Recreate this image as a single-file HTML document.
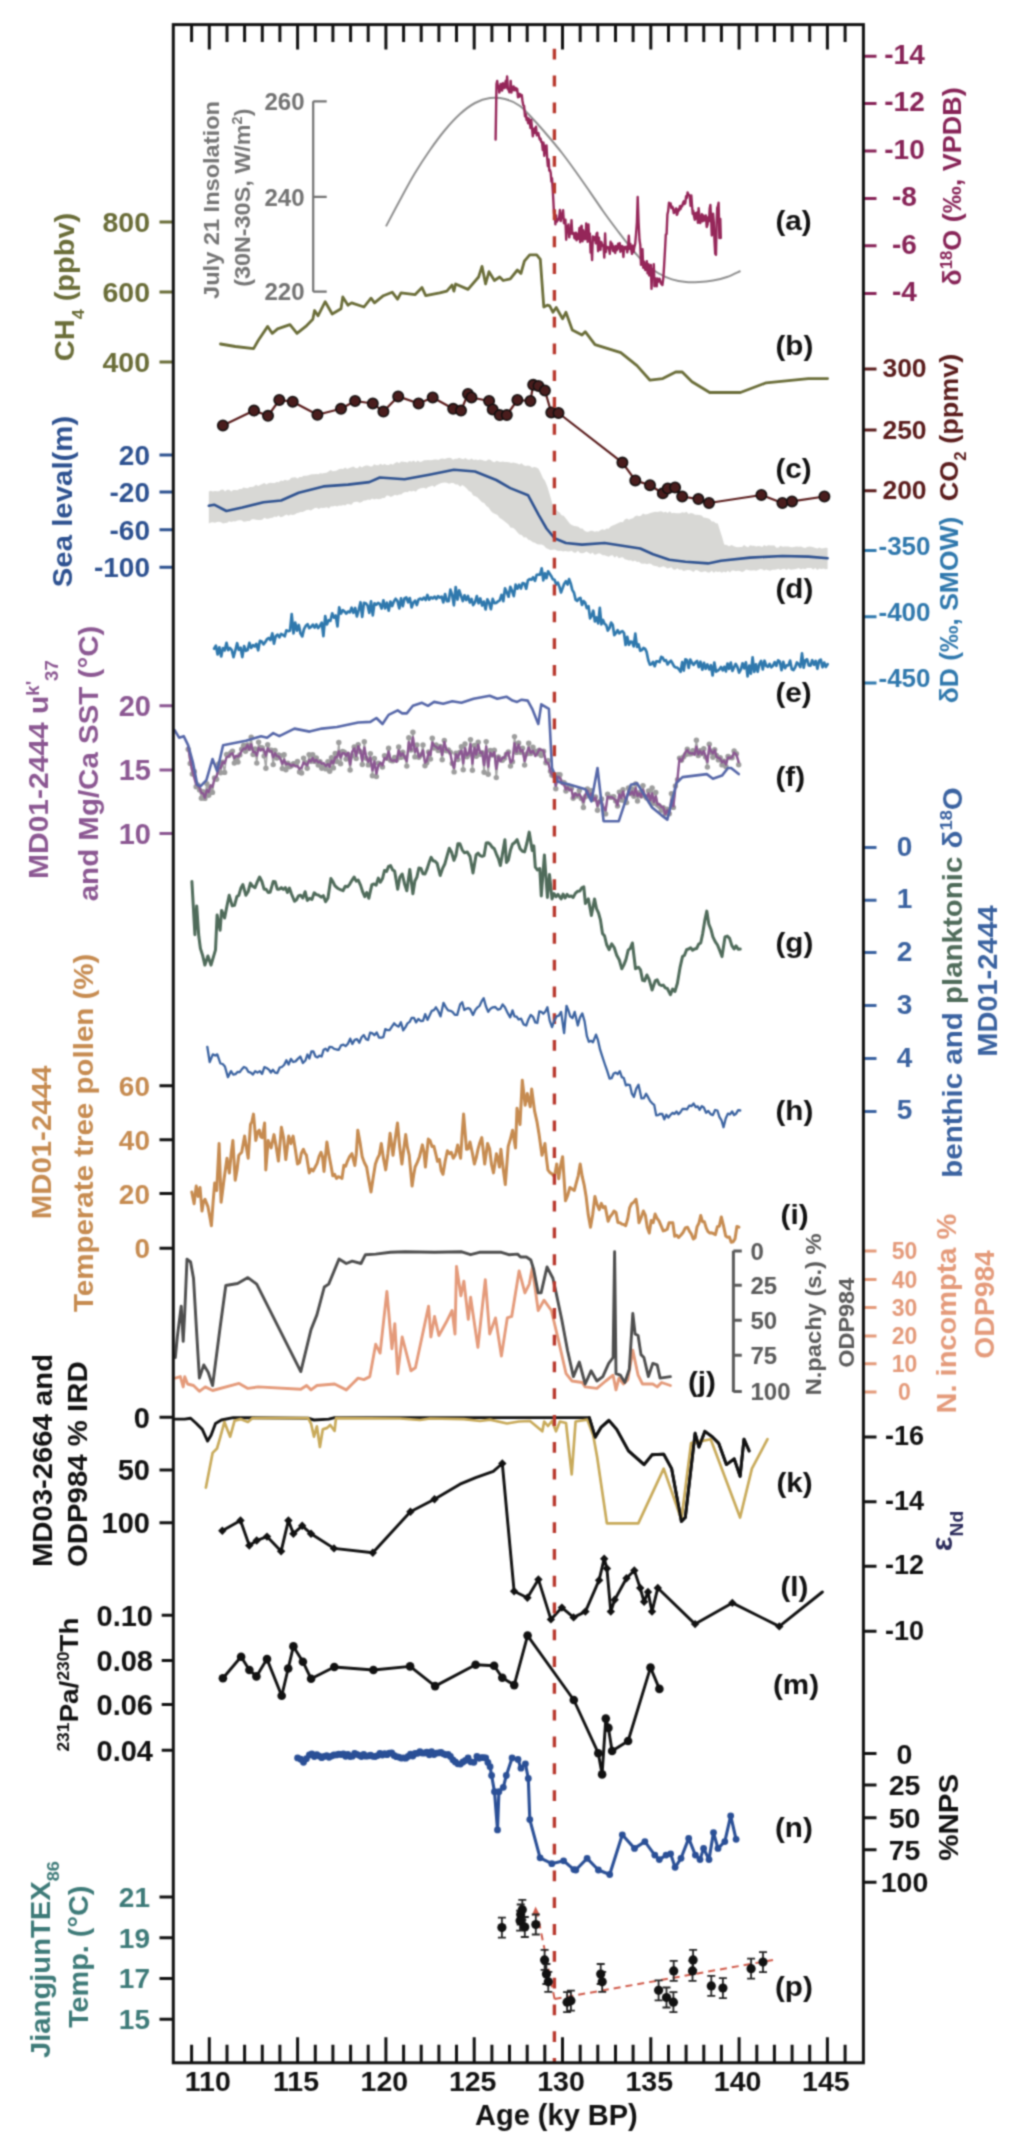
<!DOCTYPE html><html><head><meta charset="utf-8"><style>html,body{margin:0;padding:0;background:#fff;overflow:hidden}svg{display:block}text{font-family:"Liberation Sans",sans-serif;font-weight:bold}</style></head><body>
<svg width="1021" height="2143" viewBox="0 0 1021 2143">
<defs><filter id="bl" x="0" y="0" width="1021" height="2143" filterUnits="userSpaceOnUse" color-interpolation-filters="sRGB"><feConvolveMatrix order="5" kernelMatrix="0 3 8 3 0 3 48 116 48 3 8 116 283 116 8 3 48 116 48 3 0 3 8 3 0" divisor="995" edgeMode="duplicate"/></filter></defs><g filter="url(#bl)">
<rect width="1021" height="2143" fill="#fff"/>
<polygon points="208.8,491.6 210.8,490.8 212.9,491.4 214.9,490.9 217,491.3 219,491.2 221,489.8 223.1,489.5 225.1,491.4 227.1,489.8 229.2,489.7 231.2,491.4 233.3,490 235.3,489.9 237.4,490.3 239.4,489 241.5,489 243.6,487.4 245.7,488.1 247.7,488.3 249.8,487 251.9,487.1 253.9,486.6 256,484.7 258.1,485.9 260.1,485.1 262.2,484 264.3,482.9 266.4,484.5 268.4,483.2 270.5,482.8 272.6,482.9 274.7,482.9 276.7,482.1 278.8,482.2 280.9,480.5 283,481.1 285,479.8 287.1,480.6 289.2,480 291.3,477.7 293.3,477.4 295.4,477.2 297.5,478.6 299.6,476.9 301.6,476.9 303.7,475.7 305.8,475.8 307.9,475.4 309.9,474.7 312,474.2 314.1,474.3 316.2,473.9 318.2,474.3 320.3,473.3 322.4,473.5 324.4,472.9 326.5,472.8 328.6,471.6 330.6,470 332.7,471.2 334.8,471.1 336.9,470.5 338.9,469.3 341,468.7 343.1,469 345.2,467.6 347.2,468.9 349.3,468.1 351.4,467.2 353.5,466.4 355.5,468.1 357.6,468.2 359.7,465.9 361.8,467.4 363.8,466.2 365.9,465.4 368,465.5 370.1,466.5 372.1,466.5 374.2,464.3 376.3,465.2 378.4,465.3 380.5,463.7 382.5,465.1 384.6,464 386.7,465.1 388.8,465.1 390.8,463.8 392.9,464.7 395,462.9 397.1,462.1 399.1,463.2 401.2,461.6 403.3,461.8 405.4,462.1 407.4,462.4 409.5,461.1 411.6,461.7 413.7,460.4 415.7,462.2 417.8,460.6 419.9,462 422,461.6 424,460.2 426.1,460.2 428.2,460.1 430.2,460.2 432.3,459.9 434.4,459.6 436.4,459.5 438.5,460.1 440.6,458.8 442.7,458.4 444.7,458.9 446.8,458.2 448.9,457.7 450.9,457.9 453,459.7 455.1,458.7 457.2,458.8 459.2,457.7 461.3,458.7 463.4,459.2 465.4,458 467.5,459.5 469.6,459.7 471.6,458.4 473.7,459.9 475.8,459.6 477.9,460.2 479.9,459.5 482,460 484.1,460.7 486.2,461 488.2,459.5 490.3,459.7 492.4,461.4 494.5,462.3 496.5,460.8 498.6,461.5 500.7,462 502.8,461.6 504.8,461.9 506.9,462 509,462.3 511.1,463 513.1,462.5 515.2,462.9 517.3,463.4 519.4,464.6 521.5,463.3 523.7,465.2 525.8,466.1 527.9,465.6 530,465.9 532.1,467.8 534.3,467 536.4,467.4 538.5,468.7 540.7,473 542.9,478 545.1,481 547.3,486.4 550.1,495.7 553,505.9 555.1,507.6 557.3,511 559.4,512.2 561.6,515.3 563.7,515.8 565.9,518.4 568,521.3 570.2,524 572.3,525.2 574.3,525.9 576.3,526.2 578.4,526.7 580.4,528.5 582.4,528.5 584.5,530.8 586.5,531.7 588.5,531.7 590.5,530.7 592.5,530.7 594.5,531.8 596.5,531.2 598.6,531.4 600.6,530.1 602.6,529.3 604.6,530 606.6,528.5 608.6,528.7 610.7,526.5 612.7,525.6 614.7,524.8 616.8,523.8 618.8,522.8 620.8,522 622.8,522.2 624.8,519.5 626.9,518.4 628.9,519.8 630.9,518.8 633,518.3 635,516.2 637,515.5 639,516.2 641,515.7 643,513.6 645,514.5 647.1,514.3 649.1,513.5 651.1,512.7 653.1,512.3 655.2,511.8 657.3,511.9 659.3,511.6 661.4,511.3 663.5,512.5 665.6,511.8 667.7,513 669.7,511.2 671.8,513.3 673.9,512.8 676,513.3 678,513.3 680.1,513.3 682.2,512.3 684.4,512.8 686.5,511.8 688.7,514 690.8,512.9 693,513.6 695.1,514.8 697.3,514.8 699.4,514.9 701.6,515.5 703.6,517.6 705.6,517.8 707.7,518.2 709.7,519 711.7,521.4 713.8,521.5 715.8,523.3 717.8,523.6 719.9,530.2 722.1,536.9 724.2,544.6 726.7,545.1 729.1,546.2 731.5,545.1 734,546.3 736,547 738,547.3 740,547 742,547.1 744.1,545.1 746.1,546.6 748.1,547.2 750.1,545.2 752.1,545.8 754.1,545.7 756.1,546.4 758.2,546.1 760.2,546.2 762.2,547 764.2,545.1 766.2,546.3 768.2,545.3 770.3,545.5 772.3,545.6 774.4,545.5 776.4,547.7 778.5,547.5 780.5,545.7 782.6,546.8 784.6,546.4 786.7,546.4 788.7,546.6 790.8,547.3 792.8,547.2 794.9,546.8 796.9,546.4 798.9,546.8 801,546.4 803,547.5 805.1,547.9 807.1,547.1 809.2,546.5 811.2,546.8 813.3,547.3 815.3,547.9 817.4,548.4 819.4,547.5 821.5,548.6 823.5,548.2 825.6,547.8 827.6,548 827.6,568.9 825.5,569.2 823.5,568.5 821.4,569.1 819.4,568.6 817.3,569.9 815.3,568.1 813.2,569.6 811.2,568 809.1,567.9 807.1,568 805,569.3 802.9,568.6 800.9,569.6 798.8,568 796.8,568.8 794.7,569.2 792.7,569.6 790.6,569.8 788.6,568.4 786.5,569.9 784.5,568.8 782.4,568.9 780.4,570 778.4,568.7 776.3,569.5 774.3,569.7 772.3,569.7 770.2,570.7 768.2,570.2 766.2,569.4 764.2,570.6 762.1,569.3 760.1,569 758.1,570.1 756.1,570.7 754,570.3 752,570.5 750,570.5 748,570.1 746,569.5 744,571.3 742,571.9 739.9,571.1 737.9,570.7 735.9,571.2 733.9,570.5 731.9,570.6 729.9,572.4 727.9,570.8 725.8,572.4 723.8,571.6 721.8,572.7 719.8,571.5 717.8,572.1 715.8,571.3 713.8,572.8 711.7,570.8 709.7,572.4 707.7,572.5 705.6,571.3 703.6,571.4 701.6,572.2 699.6,571.5 697.5,570.2 695.5,570 693.5,572 691.5,570.8 689.4,570.1 687.4,570.1 685.4,570.5 683.4,570.9 681.4,569.6 679.3,569.7 677.3,568.3 675.3,569.8 673.3,569.5 671.3,567.2 669.2,568.1 667.2,568.4 665.2,567.1 663.2,566.3 661.2,567.1 659.2,567.4 657.1,566.2 655.1,566.1 653.1,565.6 651.1,564 649.1,563.5 647,564.2 645,563.5 643,563.8 641,563.5 639,561.7 637,562 634.9,560.4 632.9,561.5 630.9,560.2 628.9,560.5 626.9,559.8 624.8,559.3 622.8,557.2 620.8,557.6 618.8,558.2 616.8,555.8 614.7,557.7 612.7,555.2 610.7,555.4 608.7,556.8 606.7,556 604.6,555.3 602.6,555.2 600.6,553.7 598.6,553.2 596.6,554.3 594.6,554.7 592.5,552.4 590.5,554 588.5,552.7 586.4,551.4 584.3,552.8 582.2,553.3 580.1,553.1 577.9,550.8 575.8,552.8 573.7,552.5 571.6,550.8 569.5,551.6 567.4,551.4 565.3,550.9 563.2,551.4 561,550.8 558.9,551 556.8,550.5 554.7,549.6 552.6,549.8 550.4,549.9 548.2,549 546,548.1 543.8,545.6 541.6,544.4 539.4,544.5 537.2,544.3 535,542.8 532.8,542.2 530.6,540.5 528.4,539.8 526.1,537.3 523.9,537.4 521.7,535 519.5,534.6 517.3,532.2 515.1,529.4 512.9,527.8 510.7,527.8 508.5,524.5 506.3,522.7 504.1,521 501.9,519.3 499.7,518.1 497.5,515 495.3,514.1 493.1,512.9 490.9,511.1 488.6,507.6 486.4,506 484.2,503.1 482,502.2 479.8,500 477.6,497.6 475.4,496.2 473.2,495.5 471.1,492.1 468.9,491 466.7,488.4 464.5,486.4 462.3,485 460.1,486.7 457.9,484.4 455.6,484.6 453.4,483 451.2,482.9 449,483.7 446.8,482.8 444.7,482.5 442.7,482.8 440.6,483.3 438.5,484.2 436.4,485.2 434.4,487.1 432.3,485.5 430.2,486.4 428.2,487.1 426.1,488.7 424,487.7 422,487.9 419.9,488.4 417.8,489.6 415.7,491.7 413.7,490.8 411.6,491.6 409.5,491.1 407.4,492.3 405.4,492.1 403.3,492.8 401.2,494.5 399.1,494.4 397.1,495.6 395,494.7 392.9,496 390.8,496.9 388.8,495.7 386.7,495.5 384.6,498.1 382.5,498 380.5,499 378.4,499.2 376.3,498.7 374.2,499.6 372.1,498.4 370.1,499.9 368,499.6 365.9,500.4 363.8,500.6 361.8,501.9 359.7,502.7 357.6,501.8 355.5,501.8 353.5,502.3 351.4,504.7 349.3,504.3 347.2,504.1 345.2,505.6 343.1,505 341,505.8 339,505.5 337,506.6 335,505.8 332.9,506.6 330.9,506.3 328.9,508.5 326.9,507.2 324.9,507.7 322.9,508.1 320.9,507.8 318.8,508.9 316.8,507.7 314.8,508 312.8,509.3 310.8,510.6 308.8,509.8 306.8,510 304.7,511.1 302.7,512 300.7,512.1 298.7,512.8 296.7,513.2 294.7,514.4 292.7,514.9 290.6,514.5 288.6,515.7 286.6,514.6 284.6,515.6 282.6,516.7 280.6,517.3 278.6,515.6 276.5,516.9 274.5,516.6 272.5,517.7 270.5,518.1 268.4,518.7 266.4,518.8 264.3,517.7 262.2,519.8 260.1,520 258.1,519.9 256,519.8 253.9,519.3 251.9,519.2 249.8,520.9 247.7,521.1 245.7,521.4 243.6,521.8 241.5,520.3 239.4,520.2 237.4,520.6 235.3,521.6 233.3,521.2 231.2,522 229.2,521.3 227.1,522.8 225.1,523 223.1,523.4 221,522.3 219,521.7 217,522 214.9,522.7 212.9,522.2 210.8,522.6 208.8,523.4" fill="#d8d8d5" stroke="none"/>
<polyline points="208.8,505.8 214.1,504.7 226.4,511 242.3,507.5 263.5,502.2 281.1,500.5 298.7,492.7 323.4,486.4 348,484.6 369.3,482.1 379.8,477.5 404.5,479.3 429.2,474.7 453.9,469.8 475,471.5 496.2,480 510.3,488.1 528,495.2 538.5,514.6 546.5,528.5 554.5,538.2 565.9,543 582,544.6 604.6,543 640.2,548.5 653.1,554.3 669.3,559.8 685.4,561.8 708,563.4 721,560.8 750,557.6 782.4,556 808.3,556.6 827.6,558.2" fill="none" stroke="#2d5190" stroke-width="2.6" stroke-linejoin="round" stroke-linecap="round"/>
<path d="M159.5 455.1H173.3M159.5 492H173.3M159.5 529.7H173.3M159.5 567.2H173.3" stroke="#2d5190" stroke-width="3" fill="none"/>
<text x="150" y="465.1" font-size="28" fill="#2d5190" text-anchor="end">20</text>
<text x="150" y="502" font-size="28" fill="#2d5190" text-anchor="end">-20</text>
<text x="150" y="539.7" font-size="28" fill="#2d5190" text-anchor="end">-60</text>
<text x="150" y="577.2" font-size="28" fill="#2d5190" text-anchor="end">-100</text>
<path d="M313.2 101.3V291.7M313.2 101.3H326.7M313.2 196.9H326.7M313.2 291.7H326.7" stroke="#727272" stroke-width="2.2" fill="none"/>
<text x="304.5" y="109.9" font-size="24" fill="#727272" text-anchor="end">260</text>
<text x="304.5" y="205.5" font-size="24" fill="#727272" text-anchor="end">240</text>
<text x="304.5" y="300.3" font-size="24" fill="#727272" text-anchor="end">220</text>
<path d="M386 226.4C388.3 222 395.2 208.9 400 200C404.8 191.1 410 181.3 415 173C420 164.7 425 157.2 430 150C435 142.8 440 136 445 130C450 124 455 118.5 460 114C465 109.5 470 105.7 475 103C480 100.3 485 98.7 490 98C495 97.3 500 97.7 505 99C510 100.3 515 102.3 520 106C525 109.7 530.1 116 534.8 121C539.5 126 543.5 130.7 548 136C552.5 141.3 557.3 147 562 153C566.7 159 571.4 165.6 576 172C580.6 178.4 585.2 185.1 589.7 191.6C594.2 198.1 598.5 204.6 603 211C607.5 217.4 612.3 223.8 617 230C621.7 236.2 626.4 242.5 631 248C635.6 253.5 640.1 258.8 644.6 263C649.1 267.2 653.4 270.3 658 273C662.6 275.7 667.3 277.9 672 279.4C676.7 280.9 681.4 281.6 686 282C690.6 282.4 694.9 282.2 699.4 282C703.9 281.8 708.4 281.3 713 280.5C717.6 279.7 722.4 278.6 727 277C731.6 275.4 738.2 272 740.5 271" fill="none" stroke="#8f8f8f" stroke-width="2"/>
<polyline points="495.6,139.5 496.5,84 497.2,80.9 497.9,87.7 498.6,85.9 499.3,92.6 500,90 500.7,83.9 501.4,85.1 502.1,90.6 502.9,83.2 503.6,88 504.3,88.1 505,85 505.7,81 506.4,87.6 507.1,76.4 507.9,89.2 508.6,89.7 509.3,92.3 510,92 510.7,80.9 511.4,92.6 512.1,86.8 512.9,90.1 513.6,86.5 514.3,90.2 515,88 515.8,88 516.5,90.7 517.2,88.9 518,97.3 518.8,93.6 519.5,96.7 520.2,94.1 521,96 521.8,95.1 522.5,101 523.3,105.4 524.1,106 525,116.3 525.8,114.1 526.6,120 527.4,117.8 528.1,123.2 528.9,118.8 529.7,121.6 530.5,128.1 531.2,119.9 532,128 532.8,136.3 533.6,131.6 534.4,128.5 535.2,132.9 536,126.8 536.8,135.3 537.6,134 538.3,133 539.1,136.9 539.8,139.4 540.5,138.6 541.3,142.1 542,142 542.8,150.1 543.5,142.7 544.3,155.9 545,146 545.8,153 546.5,145.4 547.2,158.3 547.9,166.2 548.6,159.4 549.3,170.7 550,170 550.7,172.7 551.4,181.6 552,178.1 552.7,189 553.4,201.6 554,213.6 554.7,210.3 555.4,224.4 556.1,215.4 556.8,221.8 557.6,220.2 558.4,219.6 559.2,217.6 559.9,210 560.7,221.1 561.5,217.1 562.3,214 563.1,210.2 563.9,223.1 564.7,223.5 565.4,219.6 566.2,239.7 567,226.3 567.8,230 568.5,224.4 569.3,237.4 570,230.5 570.8,233.7 571.5,220.1 572.3,233.9 573,233 573.7,232.9 574.4,238.1 575.1,238.7 575.9,232.6 576.6,240.4 577.3,234 578,238.9 578.7,235.5 579.5,228 580.2,242.2 581,226.9 581.7,225.7 582.5,241.3 583.2,230.3 584,233.5 584.7,239.2 585.5,238.9 586.2,223.4 587,236 587.7,241.8 588.5,224.5 589.2,241.2 589.9,233.5 590.6,252.6 591.4,246.6 592.1,260.1 592.8,236.5 593.5,240.1 594.3,237 595,238 595.8,243.4 596.6,233.7 597.3,232.7 598.1,251.3 598.9,237.7 599.7,243.8 600.4,249.8 601.2,242 602,244 602.8,245.4 603.6,247.2 604.3,257.6 605.1,233.4 605.9,252 606.7,246.6 607.4,248.1 608.2,247.2 609,249 609.8,253.8 610.6,241.8 611.3,248 612.1,243.7 612.9,250.8 613.7,246.4 614.4,251.6 615.2,253 616,246 616.7,250.3 617.5,249.1 618.2,243.7 618.9,248.3 619.7,243.2 620.4,251.8 621.1,250.4 621.9,246 622.6,246.5 623.4,257 624.1,246.9 624.9,248.9 625.7,246.9 626.5,246.7 627.2,252.4 628,249 628.8,235.8 629.6,248.9 630.4,244 631.2,250.1 632,253.9 632.8,245.6 633.6,252 634.4,246.9 635.2,243.9 636,234.5 636.9,222.7 637.7,197 638.6,222.9 639.5,240 640.3,245.1 641,264.9 641.8,257.5 642.5,249.1 643.2,267.8 643.9,261.4 644.6,266.8 645.3,270 646,266 646.8,261.2 647.6,273.4 648.4,264.2 649.2,275.5 650,274 650.8,264.9 651.5,288.9 652.2,269.8 653,276.6 653.8,264.1 654.5,286.3 655.2,278.2 656,279 656.7,286.3 657.4,278.4 658.1,281.8 658.8,281 659.6,278.8 660.3,281.2 661,283.8 661.7,283.9 662.4,285 663.3,278.3 664.1,265.8 665,250 665.8,234.7 666.6,233.9 667.4,214.6 668.2,211 669,202.6 669.8,204.9 670.6,203.4 671.4,208.1 672.2,206.5 673,208 673.8,213 674.5,212.2 675.2,211.1 676,208.4 676.8,214.9 677.5,213.6 678.3,209.3 679.1,210.5 679.9,206.1 680.6,209.1 681.4,205.6 682.2,206.2 683,203 683.8,201.3 684.5,204.1 685.3,203 686.1,196.1 686.9,197.9 687.6,192.5 688.4,194.4 689.1,194.9 689.8,196.1 690.6,205.8 691.3,195.4 692,205 692.7,213.9 693.3,210.8 694,216 694.8,219.7 695.5,213.1 696.3,218.6 697.1,212.4 697.9,222.9 698.6,208.2 699.4,217.7 700.2,223.1 701,219.9 701.8,214.1 702.6,221.3 703.4,215.4 704.2,220.5 705,219 705.9,215.5 706.7,227 707.6,224.6 708.3,217.2 709,221.2 709.7,208.5 710.4,205 711.1,218.6 711.8,235.5 712.5,225.5 713.1,213.6 713.8,222.7 714.5,241 715.2,253.7 716,254.7 716.6,223.8 717.2,208 717.9,206.3 718.6,202.6 719.4,238 720.3,219 720.8,238" fill="none" stroke="#952659" stroke-width="2.4" stroke-linejoin="round" stroke-linecap="round"/>
<path d="M863.4 56.3H876.5M863.4 103.5H876.5M863.4 151H876.5M863.4 198.4H876.5M863.4 245.8H876.5M863.4 293.4H876.5" stroke="#872357" stroke-width="3" fill="none"/>
<text x="904.5" y="64.1" font-size="28" fill="#872357" text-anchor="middle">-14</text>
<text x="904.5" y="111.3" font-size="28" fill="#872357" text-anchor="middle">-12</text>
<text x="904.5" y="158.8" font-size="28" fill="#872357" text-anchor="middle">-10</text>
<text x="904.5" y="206.2" font-size="28" fill="#872357" text-anchor="middle">-8</text>
<text x="904.5" y="253.6" font-size="28" fill="#872357" text-anchor="middle">-6</text>
<text x="904.5" y="301.2" font-size="28" fill="#872357" text-anchor="middle">-4</text>
<polyline points="220.5,344 235.3,346.5 253.6,348.6 258.2,340.5 267.7,326.4 272.3,333.4 277.6,328.9 290,324.6 297,333.4 305.8,326.4 312.8,319.3 314.6,310.5 318,315.8 325.2,301.7 332.2,314 341,308.8 342.8,297 348,305.2 351.6,302.8 364,307 371,298.2 374.5,302.8 383.4,295.7 392.2,292.2 397.5,299.2 401,292.9 415,294.7 422,287.6 425.7,295.7 439.8,292.9 446.8,291.1 452,285.1 453.9,291.1 455.6,284 468,289.4 478.6,277 482,266.4 485.6,284 489,271.7 494.4,280.5 499.7,277 503.2,280.5 510.3,278.8 517.4,270 520.9,273.5 524.4,261.2 529.7,254.8 536.7,254.8 540.3,259.4 543.8,307 547.3,305.2 549.7,305.9 553,312.3 556.2,307.5 562.6,318.8 565.9,312.3 572.3,330 582,335 585.2,331.7 595,344.6 620.8,352.7 637,365.6 650,380.2 662.8,378.6 675.7,372 682.2,372 692,381.8 709.7,392.5 740.4,392.5 766.2,382.8 808.3,378.6 827.6,378.6" fill="none" stroke="#6a6d38" stroke-width="2.8" stroke-linejoin="round" stroke-linecap="round"/>
<path d="M159.5 222H173.3M159.5 292H173.3M159.5 362H173.3" stroke="#6a6d38" stroke-width="3" fill="none"/>
<text x="150" y="232.2" font-size="28.5" fill="#6a6d38" text-anchor="end">800</text>
<text x="150" y="302.2" font-size="28.5" fill="#6a6d38" text-anchor="end">600</text>
<text x="150" y="372.2" font-size="28.5" fill="#6a6d38" text-anchor="end">400</text>
<polyline points="222.9,425.4 254,410.6 268,415.8 279.3,400 292.7,401.7 317.4,414.8 341,408.8 355.1,401 372.8,403.5 383.4,411.6 398.2,396.4 418.6,403.5 432.7,397.5 453.2,408.8 461,410.6 468,394 471.5,397.5 489.1,401 492.7,409.5 499.7,415.1 506.8,415.1 517.4,400 530.4,401 533.2,384.8 538.5,385.9 544.9,390.5 551.3,412.5 558.5,413 622.4,462.6 635.3,480.4 650,485.2 662.8,493.3 667.7,488.5 675.1,487.5 682.2,496.5 698.4,499.1 709,503 761.4,495 782.4,503 792,501.4 824.4,496.5" fill="none" stroke="#5a1c1c" stroke-width="2.2" stroke-linejoin="round" stroke-linecap="round"/>
<circle cx="222.9" cy="425.4" r="5.2" fill="#4a1d1d" stroke="#151010" stroke-width="1.6"/>
<circle cx="254" cy="410.6" r="5.2" fill="#4a1d1d" stroke="#151010" stroke-width="1.6"/>
<circle cx="268" cy="415.8" r="5.2" fill="#4a1d1d" stroke="#151010" stroke-width="1.6"/>
<circle cx="279.3" cy="400" r="5.2" fill="#4a1d1d" stroke="#151010" stroke-width="1.6"/>
<circle cx="292.7" cy="401.7" r="5.2" fill="#4a1d1d" stroke="#151010" stroke-width="1.6"/>
<circle cx="317.4" cy="414.8" r="5.2" fill="#4a1d1d" stroke="#151010" stroke-width="1.6"/>
<circle cx="341" cy="408.8" r="5.2" fill="#4a1d1d" stroke="#151010" stroke-width="1.6"/>
<circle cx="355.1" cy="401" r="5.2" fill="#4a1d1d" stroke="#151010" stroke-width="1.6"/>
<circle cx="372.8" cy="403.5" r="5.2" fill="#4a1d1d" stroke="#151010" stroke-width="1.6"/>
<circle cx="383.4" cy="411.6" r="5.2" fill="#4a1d1d" stroke="#151010" stroke-width="1.6"/>
<circle cx="398.2" cy="396.4" r="5.2" fill="#4a1d1d" stroke="#151010" stroke-width="1.6"/>
<circle cx="418.6" cy="403.5" r="5.2" fill="#4a1d1d" stroke="#151010" stroke-width="1.6"/>
<circle cx="432.7" cy="397.5" r="5.2" fill="#4a1d1d" stroke="#151010" stroke-width="1.6"/>
<circle cx="453.2" cy="408.8" r="5.2" fill="#4a1d1d" stroke="#151010" stroke-width="1.6"/>
<circle cx="461" cy="410.6" r="5.2" fill="#4a1d1d" stroke="#151010" stroke-width="1.6"/>
<circle cx="468" cy="394" r="5.2" fill="#4a1d1d" stroke="#151010" stroke-width="1.6"/>
<circle cx="471.5" cy="397.5" r="5.2" fill="#4a1d1d" stroke="#151010" stroke-width="1.6"/>
<circle cx="489.1" cy="401" r="5.2" fill="#4a1d1d" stroke="#151010" stroke-width="1.6"/>
<circle cx="492.7" cy="409.5" r="5.2" fill="#4a1d1d" stroke="#151010" stroke-width="1.6"/>
<circle cx="499.7" cy="415.1" r="5.2" fill="#4a1d1d" stroke="#151010" stroke-width="1.6"/>
<circle cx="506.8" cy="415.1" r="5.2" fill="#4a1d1d" stroke="#151010" stroke-width="1.6"/>
<circle cx="517.4" cy="400" r="5.2" fill="#4a1d1d" stroke="#151010" stroke-width="1.6"/>
<circle cx="530.4" cy="401" r="5.2" fill="#4a1d1d" stroke="#151010" stroke-width="1.6"/>
<circle cx="533.2" cy="384.8" r="5.2" fill="#4a1d1d" stroke="#151010" stroke-width="1.6"/>
<circle cx="538.5" cy="385.9" r="5.2" fill="#4a1d1d" stroke="#151010" stroke-width="1.6"/>
<circle cx="544.9" cy="390.5" r="5.2" fill="#4a1d1d" stroke="#151010" stroke-width="1.6"/>
<circle cx="551.3" cy="412.5" r="5.2" fill="#4a1d1d" stroke="#151010" stroke-width="1.6"/>
<circle cx="558.5" cy="413" r="5.2" fill="#4a1d1d" stroke="#151010" stroke-width="1.6"/>
<circle cx="622.4" cy="462.6" r="5.2" fill="#4a1d1d" stroke="#151010" stroke-width="1.6"/>
<circle cx="635.3" cy="480.4" r="5.2" fill="#4a1d1d" stroke="#151010" stroke-width="1.6"/>
<circle cx="650" cy="485.2" r="5.2" fill="#4a1d1d" stroke="#151010" stroke-width="1.6"/>
<circle cx="662.8" cy="493.3" r="5.2" fill="#4a1d1d" stroke="#151010" stroke-width="1.6"/>
<circle cx="667.7" cy="488.5" r="5.2" fill="#4a1d1d" stroke="#151010" stroke-width="1.6"/>
<circle cx="675.1" cy="487.5" r="5.2" fill="#4a1d1d" stroke="#151010" stroke-width="1.6"/>
<circle cx="682.2" cy="496.5" r="5.2" fill="#4a1d1d" stroke="#151010" stroke-width="1.6"/>
<circle cx="698.4" cy="499.1" r="5.2" fill="#4a1d1d" stroke="#151010" stroke-width="1.6"/>
<circle cx="709" cy="503" r="5.2" fill="#4a1d1d" stroke="#151010" stroke-width="1.6"/>
<circle cx="761.4" cy="495" r="5.2" fill="#4a1d1d" stroke="#151010" stroke-width="1.6"/>
<circle cx="782.4" cy="503" r="5.2" fill="#4a1d1d" stroke="#151010" stroke-width="1.6"/>
<circle cx="792" cy="501.4" r="5.2" fill="#4a1d1d" stroke="#151010" stroke-width="1.6"/>
<circle cx="824.4" cy="496.5" r="5.2" fill="#4a1d1d" stroke="#151010" stroke-width="1.6"/>
<path d="M863.4 368.9H876.5M863.4 430.1H876.5M863.4 490.7H876.5" stroke="#5a1c1c" stroke-width="3" fill="none"/>
<text x="904.5" y="377.4" font-size="26.5" fill="#5a1c1c" text-anchor="middle">300</text>
<text x="904.5" y="438.6" font-size="26.5" fill="#5a1c1c" text-anchor="middle">250</text>
<text x="904.5" y="499.2" font-size="26.5" fill="#5a1c1c" text-anchor="middle">200</text>
<polyline points="214.1,648.7 215.9,645.6 217.6,654.5 219.4,647.4 221.2,656.4 222.9,648.1 224.7,650.4 226.5,642.9 228.2,650.1 230,648 231.8,650.2 233.5,657.2 235.3,650.5 237.1,643.2 238.8,649.9 240.6,647.8 242.3,657.1 244.1,646.1 245.9,650.8 247.6,650.1 249.4,642.9 251.1,647.9 252.9,645.2 254.7,646.5 256.4,643.8 258.2,650.3 259.9,640.9 261.7,641.5 263.5,644.4 265.2,642.2 267,639.2 268.7,638 270.5,640 272.3,633.3 274,643.7 275.8,636 277.6,634.7 279.4,637.3 281.1,633.9 282.9,634.9 284.7,636.3 286.4,630.4 288.2,631.1 290,630.7 291.7,614.1 293.5,633.4 295.2,622.6 297,630.6 298.8,625 300.5,633.6 302.3,636.4 304,629.1 305.8,625.8 307.6,624.2 309.3,628.1 311.1,626.8 312.9,624.6 314.6,627.6 316.4,624.5 318.1,628.1 319.9,625.8 321.7,622.7 323.4,636.2 325.2,616.1 326.9,624.5 328.7,620.2 330.4,620.8 332.2,613.3 334,617.7 335.7,615.5 337.5,626.5 339.2,607.4 341,613.5 342.8,610.1 344.5,611.5 346.3,613.5 348.1,611.5 349.9,612.3 351.6,607.7 353.4,612.8 355.2,607.9 356.9,616.5 358.7,610 360.5,602.2 362.2,616.9 364,602.8 365.7,603.2 367.5,605.3 369.3,612.9 371,601.4 372.8,615.4 374.5,603.4 376.3,604.7 378.1,602.9 379.8,603.9 381.6,608.5 383.4,600.4 385.1,608.4 386.9,602.7 388.7,610.7 390.4,601.6 392.2,606 394,601.2 395.7,598.8 397.5,601.1 399.3,608.4 401,598.4 402.8,606.2 404.5,598.4 406.3,597.4 408.1,602.3 409.8,598.1 411.6,607.5 413.3,602.7 415.1,600.6 416.8,605.1 418.6,599.4 420.4,598.6 422.1,599.7 423.9,597.6 425.7,600 427.4,595 429.2,599.7 431,597.3 432.7,598.5 434.5,596.6 436.3,599 438,596.1 439.8,597.6 441.6,596.7 443.3,602.4 445.1,594 446.9,601.1 448.6,601.2 450.4,589.7 452.2,595 453.9,605.3 455.7,587 457.5,599.6 459.2,590.4 461,595.8 462.8,601 464.5,595.3 466.2,600.1 468,596 469.8,602.5 471.5,599 473.2,605.1 475,602.2 476.8,596.1 478.5,603.3 480.3,598.4 482.1,605.5 483.8,601.6 485.6,609.5 487.4,599.3 489.1,602.3 490.9,609.2 492.7,598.9 494.4,603.1 496.2,602.9 498,601.4 499.7,600.4 501.5,594.8 503.3,601.2 505,588.4 506.8,592.3 508.6,596.7 510.3,586.8 512.1,591.1 513.8,596.1 515.6,584.7 517.4,588.7 519.1,584.7 520.9,588.5 522.6,583.1 524.4,583.5 526.2,588.7 527.9,580.4 529.7,579.1 531.5,579.6 533.2,577.3 535,580.9 536.7,574.8 538.5,574.7 540.1,574.7 541.7,568.4 543.3,580.3 544.9,573.4 546.5,578.2 548.1,571.3 549.7,573.7 551.3,576.2 552.9,579.3 554.5,579.8 556.2,584.4 557.8,582.6 559.4,586.7 561,592.5 562.6,588.1 564.2,583.7 565.9,581.3 567.5,584.5 569.1,579.1 570.7,583.4 572.3,589.9 574,592.7 575.6,599.6 577.2,600.9 578.8,598.7 580.4,597.9 582,605 583.6,601.1 585.2,602.8 586.8,608.2 588.5,606.3 590.1,618.4 591.7,615.7 593.3,610.7 594.9,621.5 596.5,617.4 598.2,623.4 599.8,607.9 601.4,624.4 603,620 604.6,623.8 606.2,625 607.8,630.6 609.5,628 611.1,622.6 612.7,624.7 614.3,635.2 615.9,633.2 617.6,630.2 619.2,633.4 620.8,631.9 622.4,631.1 624,633 625.6,645 627.3,636.9 628.9,644.8 630.5,641.6 632.1,641.8 633.7,646.4 635.3,633.7 637,646.8 638.6,644.3 640.2,650.8 641.8,650.1 643.4,648 645,648.7 646.6,651.9 648.3,660.3 649.9,664.6 651.5,664.2 653.1,661.8 654.7,666.2 656.3,661.4 658,661.4 659.6,662.1 661.2,656.9 662.8,657.8 664.4,660.8 666,660.2 667.6,664.4 669.2,662.2 670.9,660.7 672.5,663.3 674.1,666.3 675.7,667.5 677.3,667.6 678.9,669.2 680.6,671.8 682.2,662.2 683.8,670.6 685.4,659.3 687,660.2 688.7,668 690.3,659.5 691.9,662.6 693.6,664.9 695.4,662.3 697.1,661 698.8,667.1 700.5,661.7 702.3,669.7 704,662.9 705.7,668.8 707.4,664.5 709.2,669.4 710.9,665.2 712.6,675.5 714.3,662.5 716.1,671.7 717.8,670.7 719.4,669.3 721,667 722.7,670.4 724.3,666.8 725.9,671.4 727.5,663.5 729.1,668.8 730.8,662.6 732.4,670.9 734,667.5 735.7,663.9 737.4,667 739.1,672.6 740.8,669.6 742.5,663.3 744.2,668.4 745.9,662.3 747.6,676.3 749.3,665.6 750.9,673.7 752.6,657.4 754.3,671.8 756,664.3 757.7,671.8 759.4,664 761.1,660.9 762.8,669.4 764.5,660.7 766.2,665.8 767.9,666.8 769.6,663.9 771.3,667.3 773,665.7 774.7,662.2 776.4,665.8 778.1,660.3 779.8,661.5 781.5,670.2 783.3,661.8 785,668.2 786.7,665.4 788.4,665.4 790.1,660.6 791.8,669.3 793.5,670.1 795.2,667.2 796.9,662.5 798.6,664.2 800.3,667 802,653.3 803.7,667.6 805.4,660.1 807.1,659.3 808.8,665.3 810.5,665.6 812.2,660.2 814,664.7 815.7,660.9 817.4,668.8 819.1,660.9 820.8,659.6 822.5,667.3 824.2,662.6 825.9,666.9 827.6,664.2" fill="none" stroke="#2f78ad" stroke-width="2.7" stroke-linejoin="round" stroke-linecap="round"/>
<path d="M863.4 550.5H876.5M863.4 616.7H876.5M863.4 683H876.5" stroke="#2f78ad" stroke-width="3" fill="none"/>
<text x="904.5" y="554.8" font-size="26" fill="#2f78ad" text-anchor="middle">-350</text>
<text x="904.5" y="621" font-size="26" fill="#2f78ad" text-anchor="middle">-400</text>
<text x="904.5" y="687.3" font-size="26" fill="#2f78ad" text-anchor="middle">-450</text>
<polyline points="188.2,749.2 190.2,763.4 192.3,774.1 194.3,771.5 196.1,786.7 197.8,785 199.6,789.9 201.4,798.2 203.1,791.8 204.9,798.4 206.8,783.6 208.7,795.3 210.6,786.9 212.5,792.4 214.5,778 216.6,779.3 218.6,763.9 220.6,772.8 222.6,762.3 224.6,772.4 226.6,754.5 228.7,755.6 230.7,753 232.5,751.1 234.3,763.1 236.2,759.4 238,762.1 239.8,754.9 241.7,749.2 243.6,745.4 245.5,751.2 247.4,745 249.3,748.5 251.2,737.1 253.1,754.5 255,749 256.8,763.1 258.6,742.1 260.5,747.8 262.3,748 264.1,756.1 265.9,768.2 267.7,744.7 269.6,750.1 271.4,750.3 273.2,764.6 275,750.4 276.8,758 278.7,755 280.5,755.7 282.3,768.6 284.1,754.7 285.9,769.8 287.8,763.1 289.6,766.7 291.4,765.8 293.4,763.8 295.5,763.7 297.5,761.4 299.5,772 301.6,773 303.6,758.1 305.4,762.8 307.2,768.2 309.1,754.6 310.9,761.2 312.7,754.8 314.5,761.4 316.3,757.9 318.2,765.1 320,761.6 321.8,768.2 323.8,765.9 325.9,768.9 327.9,761.7 329.7,771.2 331.5,757.7 333.4,767.9 335.2,753.4 337,761.5 338.8,742.5 340.6,763.8 342.5,751.4 344.3,752.1 346.1,759.1 348.1,754.5 350.1,770 352.1,755.7 354.2,746.9 356.2,758.5 358.2,744.6 360.2,751.6 362.3,764.5 364.3,741.8 366.3,758.3 368.3,764.9 370.4,753.6 372.4,775.8 374.4,758.5 376.4,776.6 378.4,763.1 380.5,764.5 382.5,767 384.5,755.8 386.6,758.3 388.6,748.3 390.6,760.3 392.6,760.9 394.6,757.5 396.6,759.7 398.7,747 400.7,757.4 402.7,752.2 404.8,757.1 406.8,766.1 408.8,737.7 410.9,750.1 412.9,732.3 414.9,756.9 416.9,744.9 418.9,757.3 420.9,755 423,744.9 425,765.8 426.8,762.8 428.6,751.9 430.5,759.1 432.3,738.3 434.1,748 436.1,745 438.2,750.5 440.2,746.4 442.2,759.8 444.3,740.5 446.3,750.8 448.3,749.9 450.3,752.3 452.3,763.5 454.1,771.9 455.9,753.3 457.8,759.5 459.6,752.5 461.4,746.8 463.2,769.8 465,743.9 466.9,756.8 468.7,754.3 470.5,739.6 472.4,770.3 474.4,745.4 476.3,756.3 478.2,742.3 480.2,754.3 482.1,752.6 484.1,772.2 486.2,741.6 488.2,774.3 490.2,750.5 492.3,755.1 494.3,750.3 496.3,777.6 498.4,757 500.4,759.5 502.4,760.3 504.4,758.3 506.4,754.2 508.4,752 510.5,766.1 512.5,761.8 514.5,736.6 516.6,752.4 518.6,742.9 520.6,752.2 522.6,748.2 524.6,765.1 526.6,754 528.7,743.3 530.7,753.5 533,747.1 535.3,751.1 537.3,753.8 539.3,750.2 541.3,755.5 543.6,751.2 545.9,762.7 548.2,760.6 550.5,771.3 552,775.3 553.5,774.6 555.8,788.8 558,774.7 560,774.8 562.1,782.1 564.1,782.8 565.9,791 567.7,785.5 569.6,788.6 571.4,788.5 573.2,798.2 575.2,794.7 577.3,796 579.3,790.5 581.3,798.6 583.4,807.5 585.4,796.8 587.4,788.9 589.4,794.3 591.4,790.6 593.4,799.3 595.5,796.9 597.5,810.3 599.5,801.6 601.6,799 603.6,809.2 605.6,813.9 607.6,794.2 609.6,797.1 611.6,797.3 613.7,796.8 615.7,801.1 617.5,806.1 619.3,792.1 621.2,800.1 623,789.8 624.8,801.3 626.6,802.6 628.4,787.9 630.3,793.5 632.1,788.9 633.9,796.2 635.7,784 637.5,801 639.4,792.8 641.2,796.1 643,785.6 644.8,796.1 646.6,798 648.5,791 650.3,801.7 652.1,788 653.9,803.3 655.8,792.5 657.6,804.9 659.5,806.5 661.3,810.3 663.3,807.7 665.3,813.5 667.3,809.3 669.3,813.8 671.4,793.6 673.4,807.4 675.4,785.9 677.5,779.6 679.5,758.1 681.5,760.3 683.5,756.9 685.5,754.7 687.3,749.2 689.1,753.9 691,753.8 692.8,750.7 694.6,752.5 696.4,740.2 698.3,755.5 700.1,750.6 702,753.6 703.8,748.8 705.6,757.1 707.4,767.1 709.3,744.2 711.1,752.2 712.9,757.3 714.7,749.6 716.5,755.4 718.4,759.9 720.2,757.7 722,764.9 724,761.3 726,766.7 728,756.4 730,757.5 732.1,757.8 734.1,750.9 736.4,753.7 738.7,764.8" fill="none" stroke="#a6a6a6" stroke-width="1.6" stroke-linejoin="round"/>
<g fill="#9c9c9c"><circle cx="188.2" cy="749.2" r="2.7"/><circle cx="190.2" cy="763.4" r="2.7"/><circle cx="192.3" cy="774.1" r="2.7"/><circle cx="194.3" cy="771.5" r="2.7"/><circle cx="196.1" cy="786.7" r="2.7"/><circle cx="197.8" cy="785" r="2.7"/><circle cx="199.6" cy="789.9" r="2.7"/><circle cx="201.4" cy="798.2" r="2.7"/><circle cx="203.1" cy="791.8" r="2.7"/><circle cx="204.9" cy="798.4" r="2.7"/><circle cx="206.8" cy="783.6" r="2.7"/><circle cx="208.7" cy="795.3" r="2.7"/><circle cx="210.6" cy="786.9" r="2.7"/><circle cx="212.5" cy="792.4" r="2.7"/><circle cx="214.5" cy="778" r="2.7"/><circle cx="216.6" cy="779.3" r="2.7"/><circle cx="218.6" cy="763.9" r="2.7"/><circle cx="220.6" cy="772.8" r="2.7"/><circle cx="222.6" cy="762.3" r="2.7"/><circle cx="224.6" cy="772.4" r="2.7"/><circle cx="226.6" cy="754.5" r="2.7"/><circle cx="228.7" cy="755.6" r="2.7"/><circle cx="230.7" cy="753" r="2.7"/><circle cx="232.5" cy="751.1" r="2.7"/><circle cx="234.3" cy="763.1" r="2.7"/><circle cx="236.2" cy="759.4" r="2.7"/><circle cx="238" cy="762.1" r="2.7"/><circle cx="239.8" cy="754.9" r="2.7"/><circle cx="241.7" cy="749.2" r="2.7"/><circle cx="243.6" cy="745.4" r="2.7"/><circle cx="245.5" cy="751.2" r="2.7"/><circle cx="247.4" cy="745" r="2.7"/><circle cx="249.3" cy="748.5" r="2.7"/><circle cx="251.2" cy="737.1" r="2.7"/><circle cx="253.1" cy="754.5" r="2.7"/><circle cx="255" cy="749" r="2.7"/><circle cx="256.8" cy="763.1" r="2.7"/><circle cx="258.6" cy="742.1" r="2.7"/><circle cx="260.5" cy="747.8" r="2.7"/><circle cx="262.3" cy="748" r="2.7"/><circle cx="264.1" cy="756.1" r="2.7"/><circle cx="265.9" cy="768.2" r="2.7"/><circle cx="267.7" cy="744.7" r="2.7"/><circle cx="269.6" cy="750.1" r="2.7"/><circle cx="271.4" cy="750.3" r="2.7"/><circle cx="273.2" cy="764.6" r="2.7"/><circle cx="275" cy="750.4" r="2.7"/><circle cx="276.8" cy="758" r="2.7"/><circle cx="278.7" cy="755" r="2.7"/><circle cx="280.5" cy="755.7" r="2.7"/><circle cx="282.3" cy="768.6" r="2.7"/><circle cx="284.1" cy="754.7" r="2.7"/><circle cx="285.9" cy="769.8" r="2.7"/><circle cx="287.8" cy="763.1" r="2.7"/><circle cx="289.6" cy="766.7" r="2.7"/><circle cx="291.4" cy="765.8" r="2.7"/><circle cx="293.4" cy="763.8" r="2.7"/><circle cx="295.5" cy="763.7" r="2.7"/><circle cx="297.5" cy="761.4" r="2.7"/><circle cx="299.5" cy="772" r="2.7"/><circle cx="301.6" cy="773" r="2.7"/><circle cx="303.6" cy="758.1" r="2.7"/><circle cx="305.4" cy="762.8" r="2.7"/><circle cx="307.2" cy="768.2" r="2.7"/><circle cx="309.1" cy="754.6" r="2.7"/><circle cx="310.9" cy="761.2" r="2.7"/><circle cx="312.7" cy="754.8" r="2.7"/><circle cx="314.5" cy="761.4" r="2.7"/><circle cx="316.3" cy="757.9" r="2.7"/><circle cx="318.2" cy="765.1" r="2.7"/><circle cx="320" cy="761.6" r="2.7"/><circle cx="321.8" cy="768.2" r="2.7"/><circle cx="323.8" cy="765.9" r="2.7"/><circle cx="325.9" cy="768.9" r="2.7"/><circle cx="327.9" cy="761.7" r="2.7"/><circle cx="329.7" cy="771.2" r="2.7"/><circle cx="331.5" cy="757.7" r="2.7"/><circle cx="333.4" cy="767.9" r="2.7"/><circle cx="335.2" cy="753.4" r="2.7"/><circle cx="337" cy="761.5" r="2.7"/><circle cx="338.8" cy="742.5" r="2.7"/><circle cx="340.6" cy="763.8" r="2.7"/><circle cx="342.5" cy="751.4" r="2.7"/><circle cx="344.3" cy="752.1" r="2.7"/><circle cx="346.1" cy="759.1" r="2.7"/><circle cx="348.1" cy="754.5" r="2.7"/><circle cx="350.1" cy="770" r="2.7"/><circle cx="352.1" cy="755.7" r="2.7"/><circle cx="354.2" cy="746.9" r="2.7"/><circle cx="356.2" cy="758.5" r="2.7"/><circle cx="358.2" cy="744.6" r="2.7"/><circle cx="360.2" cy="751.6" r="2.7"/><circle cx="362.3" cy="764.5" r="2.7"/><circle cx="364.3" cy="741.8" r="2.7"/><circle cx="366.3" cy="758.3" r="2.7"/><circle cx="368.3" cy="764.9" r="2.7"/><circle cx="370.4" cy="753.6" r="2.7"/><circle cx="372.4" cy="775.8" r="2.7"/><circle cx="374.4" cy="758.5" r="2.7"/><circle cx="376.4" cy="776.6" r="2.7"/><circle cx="378.4" cy="763.1" r="2.7"/><circle cx="380.5" cy="764.5" r="2.7"/><circle cx="382.5" cy="767" r="2.7"/><circle cx="384.5" cy="755.8" r="2.7"/><circle cx="386.6" cy="758.3" r="2.7"/><circle cx="388.6" cy="748.3" r="2.7"/><circle cx="390.6" cy="760.3" r="2.7"/><circle cx="392.6" cy="760.9" r="2.7"/><circle cx="394.6" cy="757.5" r="2.7"/><circle cx="396.6" cy="759.7" r="2.7"/><circle cx="398.7" cy="747" r="2.7"/><circle cx="400.7" cy="757.4" r="2.7"/><circle cx="402.7" cy="752.2" r="2.7"/><circle cx="404.8" cy="757.1" r="2.7"/><circle cx="406.8" cy="766.1" r="2.7"/><circle cx="408.8" cy="737.7" r="2.7"/><circle cx="410.9" cy="750.1" r="2.7"/><circle cx="412.9" cy="732.3" r="2.7"/><circle cx="414.9" cy="756.9" r="2.7"/><circle cx="416.9" cy="744.9" r="2.7"/><circle cx="418.9" cy="757.3" r="2.7"/><circle cx="420.9" cy="755" r="2.7"/><circle cx="423" cy="744.9" r="2.7"/><circle cx="425" cy="765.8" r="2.7"/><circle cx="426.8" cy="762.8" r="2.7"/><circle cx="428.6" cy="751.9" r="2.7"/><circle cx="430.5" cy="759.1" r="2.7"/><circle cx="432.3" cy="738.3" r="2.7"/><circle cx="434.1" cy="748" r="2.7"/><circle cx="436.1" cy="745" r="2.7"/><circle cx="438.2" cy="750.5" r="2.7"/><circle cx="440.2" cy="746.4" r="2.7"/><circle cx="442.2" cy="759.8" r="2.7"/><circle cx="444.3" cy="740.5" r="2.7"/><circle cx="446.3" cy="750.8" r="2.7"/><circle cx="448.3" cy="749.9" r="2.7"/><circle cx="450.3" cy="752.3" r="2.7"/><circle cx="452.3" cy="763.5" r="2.7"/><circle cx="454.1" cy="771.9" r="2.7"/><circle cx="455.9" cy="753.3" r="2.7"/><circle cx="457.8" cy="759.5" r="2.7"/><circle cx="459.6" cy="752.5" r="2.7"/><circle cx="461.4" cy="746.8" r="2.7"/><circle cx="463.2" cy="769.8" r="2.7"/><circle cx="465" cy="743.9" r="2.7"/><circle cx="466.9" cy="756.8" r="2.7"/><circle cx="468.7" cy="754.3" r="2.7"/><circle cx="470.5" cy="739.6" r="2.7"/><circle cx="472.4" cy="770.3" r="2.7"/><circle cx="474.4" cy="745.4" r="2.7"/><circle cx="476.3" cy="756.3" r="2.7"/><circle cx="478.2" cy="742.3" r="2.7"/><circle cx="480.2" cy="754.3" r="2.7"/><circle cx="482.1" cy="752.6" r="2.7"/><circle cx="484.1" cy="772.2" r="2.7"/><circle cx="486.2" cy="741.6" r="2.7"/><circle cx="488.2" cy="774.3" r="2.7"/><circle cx="490.2" cy="750.5" r="2.7"/><circle cx="492.3" cy="755.1" r="2.7"/><circle cx="494.3" cy="750.3" r="2.7"/><circle cx="496.3" cy="777.6" r="2.7"/><circle cx="498.4" cy="757" r="2.7"/><circle cx="500.4" cy="759.5" r="2.7"/><circle cx="502.4" cy="760.3" r="2.7"/><circle cx="504.4" cy="758.3" r="2.7"/><circle cx="506.4" cy="754.2" r="2.7"/><circle cx="508.4" cy="752" r="2.7"/><circle cx="510.5" cy="766.1" r="2.7"/><circle cx="512.5" cy="761.8" r="2.7"/><circle cx="514.5" cy="736.6" r="2.7"/><circle cx="516.6" cy="752.4" r="2.7"/><circle cx="518.6" cy="742.9" r="2.7"/><circle cx="520.6" cy="752.2" r="2.7"/><circle cx="522.6" cy="748.2" r="2.7"/><circle cx="524.6" cy="765.1" r="2.7"/><circle cx="526.6" cy="754" r="2.7"/><circle cx="528.7" cy="743.3" r="2.7"/><circle cx="530.7" cy="753.5" r="2.7"/><circle cx="533" cy="747.1" r="2.7"/><circle cx="535.3" cy="751.1" r="2.7"/><circle cx="537.3" cy="753.8" r="2.7"/><circle cx="539.3" cy="750.2" r="2.7"/><circle cx="541.3" cy="755.5" r="2.7"/><circle cx="543.6" cy="751.2" r="2.7"/><circle cx="545.9" cy="762.7" r="2.7"/><circle cx="548.2" cy="760.6" r="2.7"/><circle cx="550.5" cy="771.3" r="2.7"/><circle cx="552" cy="775.3" r="2.7"/><circle cx="553.5" cy="774.6" r="2.7"/><circle cx="555.8" cy="788.8" r="2.7"/><circle cx="558" cy="774.7" r="2.7"/><circle cx="560" cy="774.8" r="2.7"/><circle cx="562.1" cy="782.1" r="2.7"/><circle cx="564.1" cy="782.8" r="2.7"/><circle cx="565.9" cy="791" r="2.7"/><circle cx="567.7" cy="785.5" r="2.7"/><circle cx="569.6" cy="788.6" r="2.7"/><circle cx="571.4" cy="788.5" r="2.7"/><circle cx="573.2" cy="798.2" r="2.7"/><circle cx="575.2" cy="794.7" r="2.7"/><circle cx="577.3" cy="796" r="2.7"/><circle cx="579.3" cy="790.5" r="2.7"/><circle cx="581.3" cy="798.6" r="2.7"/><circle cx="583.4" cy="807.5" r="2.7"/><circle cx="585.4" cy="796.8" r="2.7"/><circle cx="587.4" cy="788.9" r="2.7"/><circle cx="589.4" cy="794.3" r="2.7"/><circle cx="591.4" cy="790.6" r="2.7"/><circle cx="593.4" cy="799.3" r="2.7"/><circle cx="595.5" cy="796.9" r="2.7"/><circle cx="597.5" cy="810.3" r="2.7"/><circle cx="599.5" cy="801.6" r="2.7"/><circle cx="601.6" cy="799" r="2.7"/><circle cx="603.6" cy="809.2" r="2.7"/><circle cx="605.6" cy="813.9" r="2.7"/><circle cx="607.6" cy="794.2" r="2.7"/><circle cx="609.6" cy="797.1" r="2.7"/><circle cx="611.6" cy="797.3" r="2.7"/><circle cx="613.7" cy="796.8" r="2.7"/><circle cx="615.7" cy="801.1" r="2.7"/><circle cx="617.5" cy="806.1" r="2.7"/><circle cx="619.3" cy="792.1" r="2.7"/><circle cx="621.2" cy="800.1" r="2.7"/><circle cx="623" cy="789.8" r="2.7"/><circle cx="624.8" cy="801.3" r="2.7"/><circle cx="626.6" cy="802.6" r="2.7"/><circle cx="628.4" cy="787.9" r="2.7"/><circle cx="630.3" cy="793.5" r="2.7"/><circle cx="632.1" cy="788.9" r="2.7"/><circle cx="633.9" cy="796.2" r="2.7"/><circle cx="635.7" cy="784" r="2.7"/><circle cx="637.5" cy="801" r="2.7"/><circle cx="639.4" cy="792.8" r="2.7"/><circle cx="641.2" cy="796.1" r="2.7"/><circle cx="643" cy="785.6" r="2.7"/><circle cx="644.8" cy="796.1" r="2.7"/><circle cx="646.6" cy="798" r="2.7"/><circle cx="648.5" cy="791" r="2.7"/><circle cx="650.3" cy="801.7" r="2.7"/><circle cx="652.1" cy="788" r="2.7"/><circle cx="653.9" cy="803.3" r="2.7"/><circle cx="655.8" cy="792.5" r="2.7"/><circle cx="657.6" cy="804.9" r="2.7"/><circle cx="659.5" cy="806.5" r="2.7"/><circle cx="661.3" cy="810.3" r="2.7"/><circle cx="663.3" cy="807.7" r="2.7"/><circle cx="665.3" cy="813.5" r="2.7"/><circle cx="667.3" cy="809.3" r="2.7"/><circle cx="669.3" cy="813.8" r="2.7"/><circle cx="671.4" cy="793.6" r="2.7"/><circle cx="673.4" cy="807.4" r="2.7"/><circle cx="675.4" cy="785.9" r="2.7"/><circle cx="677.5" cy="779.6" r="2.7"/><circle cx="679.5" cy="758.1" r="2.7"/><circle cx="681.5" cy="760.3" r="2.7"/><circle cx="683.5" cy="756.9" r="2.7"/><circle cx="685.5" cy="754.7" r="2.7"/><circle cx="687.3" cy="749.2" r="2.7"/><circle cx="689.1" cy="753.9" r="2.7"/><circle cx="691" cy="753.8" r="2.7"/><circle cx="692.8" cy="750.7" r="2.7"/><circle cx="694.6" cy="752.5" r="2.7"/><circle cx="696.4" cy="740.2" r="2.7"/><circle cx="698.3" cy="755.5" r="2.7"/><circle cx="700.1" cy="750.6" r="2.7"/><circle cx="702" cy="753.6" r="2.7"/><circle cx="703.8" cy="748.8" r="2.7"/><circle cx="705.6" cy="757.1" r="2.7"/><circle cx="707.4" cy="767.1" r="2.7"/><circle cx="709.3" cy="744.2" r="2.7"/><circle cx="711.1" cy="752.2" r="2.7"/><circle cx="712.9" cy="757.3" r="2.7"/><circle cx="714.7" cy="749.6" r="2.7"/><circle cx="716.5" cy="755.4" r="2.7"/><circle cx="718.4" cy="759.9" r="2.7"/><circle cx="720.2" cy="757.7" r="2.7"/><circle cx="722" cy="764.9" r="2.7"/><circle cx="724" cy="761.3" r="2.7"/><circle cx="726" cy="766.7" r="2.7"/><circle cx="728" cy="756.4" r="2.7"/><circle cx="730" cy="757.5" r="2.7"/><circle cx="732.1" cy="757.8" r="2.7"/><circle cx="734.1" cy="750.9" r="2.7"/><circle cx="736.4" cy="753.7" r="2.7"/><circle cx="738.7" cy="764.8" r="2.7"/></g>
<polyline points="188.2,747.3 190.2,759.6 192.3,770.4 194.3,778 196.1,784.2 197.8,785.5 199.6,787.8 201.4,793 203.1,793.5 204.9,797.7 206.8,790 208.7,792.1 210.6,785.5 212.5,786.7 214.5,778.5 216.6,776.4 218.6,768.4 220.6,768.1 222.6,762.1 224.6,763.3 226.6,757.4 228.7,756.3 230.7,753.9 232.5,753.3 234.3,758.1 236.2,755.7 238,756.6 239.8,754.7 241.7,750.8 243.6,748.5 245.5,749 247.4,745 249.3,749.4 251.2,744.3 253.1,752 255,752 256.8,755.6 258.6,747.8 260.5,750.6 262.3,749 264.1,750.3 265.9,755.5 267.7,748.3 269.6,751.3 271.4,751.2 273.2,757.2 275,753.2 276.8,756.1 278.7,756.4 280.5,759.3 282.3,763.7 284.1,759.7 285.9,764.3 287.8,763.6 289.6,764.4 291.4,766 293.4,764.6 295.5,766.3 297.5,766.2 299.5,769 301.6,767.6 303.6,762.4 305.4,764 307.2,765.4 309.1,760.1 310.9,761.4 312.7,758.1 314.5,761.7 316.3,759.8 318.2,762.4 320,761.5 321.8,763.7 323.8,763.2 325.9,766.1 327.9,764.1 329.7,766.7 331.5,760.8 333.4,763.2 335.2,757.1 337,757.3 338.8,751.3 340.6,757.4 342.5,753.3 344.3,753.2 346.1,755.7 348.1,752.7 350.1,764.5 352.1,751.9 354.2,748.4 356.2,756.1 358.2,746.1 360.2,750.4 362.3,760.8 364.3,747.6 366.3,757.6 368.3,761.8 370.4,757.6 372.4,770.4 374.4,761.4 376.4,773.7 378.4,765.2 380.5,762.8 382.5,765.4 384.5,757.9 386.6,759.3 388.6,751.5 390.6,760 392.6,760.9 394.6,760.1 396.6,761.7 398.7,750.4 400.7,755.9 402.7,753.2 404.8,757.3 406.8,761.1 408.8,742.3 410.9,749.8 412.9,737.5 414.9,751.9 416.9,748.2 418.9,757 420.9,755.4 423,750.3 425,762.6 426.8,761.1 428.6,752.2 430.5,755 432.3,742.4 434.1,745.8 436.1,746.8 438.2,748.8 440.2,746.3 442.2,754.9 444.3,741.9 446.3,749.6 448.3,750.5 450.3,753.6 452.3,763.5 454.1,768.1 455.9,754.3 457.8,757.9 459.6,752.9 461.4,750.7 463.2,763.4 465,748.1 466.9,755.4 468.7,753.6 470.5,744.2 472.4,763.6 474.4,747.7 476.3,754.6 478.2,744.8 480.2,753 482.1,752 484.1,765 486.2,746.6 488.2,766.7 490.2,752.8 492.3,755.8 494.3,752.2 496.3,768.8 498.4,756.7 500.4,761.3 502.4,757.8 504.4,757.7 506.4,753.1 508.4,752.5 510.5,762.6 512.5,760.6 514.5,743.2 516.6,751.9 518.6,744.6 520.6,751.4 522.6,750.1 524.6,761.1 526.6,753.9 528.7,747.7 530.7,753.1 533,750.7 535.3,756.1 537.3,753.4 539.3,749.2 541.3,749.8 543.6,751 545.9,762.1 548.2,763 550.5,771.5 552,774.5 553.5,776.2 555.8,785.8 558,776.8 560,778 562.1,784 564.1,785 565.9,789.5 567.7,787.4 569.6,790.3 571.4,789.3 573.2,797.9 575.2,793.4 577.3,795.6 579.3,794.2 581.3,797.5 583.4,801.9 585.4,794.6 587.4,790.6 589.4,797.3 591.4,793.6 593.4,799.9 595.5,797.5 597.5,805.8 599.5,800.8 601.6,801.3 603.6,807.7 605.6,810.3 607.6,796.7 609.6,797.5 611.6,797.1 613.7,798.5 615.7,800.5 617.5,805.4 619.3,794.4 621.2,798 623,791.4 624.8,797.8 626.6,799.2 628.4,791 630.3,794.2 632.1,791.6 633.9,795.2 635.7,788.2 637.5,796.1 639.4,793.2 641.2,797 643,789.7 644.8,795.7 646.6,797.5 648.5,793.4 650.3,800.1 652.1,793.5 653.9,802.1 655.8,796.4 657.6,804.5 659.5,804.1 661.3,807 663.3,807.3 665.3,814.1 667.3,810.3 669.3,813.1 671.4,800.1 673.4,806.3 675.4,787.5 677.5,778.4 679.5,758.7 681.5,760.9 683.5,756.9 685.5,752 687.3,750 689.1,752.8 691,753.5 692.8,753.2 694.6,754.8 696.4,746.6 698.3,754.5 700.1,751 702,754.2 703.8,751 705.6,756.3 707.4,761.8 709.3,746.2 711.1,751.2 712.9,753.4 714.7,750 716.5,756.8 718.4,758 720.2,758.4 722,762.4 724,760.8 726,764.4 728,757.5 730,757.8 732.1,757.3 734.1,752.5 736.4,754.7 738.7,762.1" fill="none" stroke="#8b5792" stroke-width="2.4" stroke-linejoin="round" stroke-linecap="round"/>
<polyline points="174.6,730.1 179.1,737.7 183.7,736.2 188.2,745.3 192.8,762 197.3,784.7 200.4,786.3 206.4,780.2 212.5,759 217.1,771 223.1,745.3 230.7,743.8 245.9,740.7 261.1,736.2 267.1,737.7 273.2,733.1 279.3,736.2 294.5,728.6 309.6,731.6 321.8,728.6 337,727 358.2,722.5 370.4,721.9 376.4,718 382.5,724 388.6,714.9 397.7,710.4 402.2,713.4 406.8,713.4 412.9,705.8 422,702.8 428,705.8 434.1,701.9 443.2,703.7 452.3,701.3 461.4,702.8 473.6,698.8 489.7,695.8 497.3,698.8 506.4,696.7 512.5,700.6 517.1,701.9 521.6,699.7 527.7,700.6 532.2,708.8 538.3,724 541.3,704.3 548.9,708.8 552,768 558,781.7 570.2,784.7 585.4,789.3 591.4,801.4 597.5,768 603.6,821.2 618.8,821.2 630.9,784.7 637,783.2 652.1,807.5 661.3,815.1 667.3,819.6 676.4,783.2 682.5,777.1 706.8,774.1 712.9,778.7 722,775.6 728,768 731.1,768 738.7,774.1" fill="none" stroke="#5566a8" stroke-width="2.6" stroke-linejoin="round" stroke-linecap="round"/>
<path d="M159.5 705.7H173.3M159.5 769.9H173.3M159.5 833.5H173.3" stroke="#8b5792" stroke-width="3" fill="none"/>
<text x="151" y="716.1" font-size="29" fill="#8b5792" text-anchor="end">20</text>
<text x="151" y="780.3" font-size="29" fill="#8b5792" text-anchor="end">15</text>
<text x="151" y="843.9" font-size="29" fill="#8b5792" text-anchor="end">10</text>
<polyline points="191.9,881.6 194.9,934.7 196.7,905.9 198.8,936.3 200.4,948.4 202.7,955.6 204.9,965.1 207.9,956 211,965.1 213.2,957.6 215.5,949.9 217.1,915 220.1,930.2 221.6,910.4 224.6,918 226.9,906.2 229.2,895.3 232.2,905.9 234.5,905.4 236.8,896.8 238.8,895.3 240.9,888.1 242.9,884.6 245.9,895.3 248.2,891.5 250.4,883.1 252.7,886.3 255,887.7 257.3,881.9 259.6,877 261.9,881.5 264.1,889.2 266.1,889.2 268.2,892.5 270.2,892.2 273.2,881.6 275.2,881.8 277.3,889.2 279.3,889.2 281.3,887.6 283.4,889.5 285.4,887.7 287.4,892.5 289.4,888.1 291.4,893.8 294.5,901.3 296.5,899.8 298.5,895.9 300.5,895.3 302.8,898 305.1,891.7 307.3,900.5 309.6,898.3 311.9,899.4 314.2,892.8 316.5,894.6 318.8,895.3 321.1,897.2 323.4,895.7 325.6,901.8 327.9,898.3 330.9,878.6 332.9,881.6 335,885.8 337,887.7 339,889 341,889.9 343,890.7 345.3,886.2 347.6,886.8 349.8,884.1 352.1,880.1 354.1,877 356.2,881.1 358.2,880.1 360.5,885.1 362.8,892.2 364.8,896.7 366.8,892.5 368.8,898.3 371.9,884.6 374,884 376.1,885.2 378.3,878.1 380.4,882.2 382.5,878.6 384.5,870.5 386.6,871.4 388.6,866.4 390.6,865.6 392.6,869.9 394.6,871 397.7,889.2 399.9,877.1 402.2,874 404.5,883.7 406.8,890.7 409.8,869.5 412.9,893.8 414.9,881 416.9,877.1 418.9,868 420.9,868.4 423,873.7 425,874 427,869.2 429.1,862.6 431.1,857.3 433.1,860.8 435.1,861.3 437.1,863.4 440.2,875.5 442.5,868.7 444.8,864 447,856.2 449.3,848.2 451.6,852.3 453.9,860.4 455.9,855.4 457.9,843.8 459.9,843.7 462.2,849.8 464.5,852.8 467.2,851.9 470,856.4 473,873.1 476.1,854.9 478.1,853.1 480.1,855.7 482.1,856.4 484.1,855.6 486.2,843.1 488.2,842.8 490.2,844.3 492.3,847.3 494.3,848.8 496.3,853.8 498.4,858.7 500.4,865.5 502.6,853.1 504.9,839.7 506.4,862.5 508.4,860 510.5,849.9 512.5,844.3 514.8,842.5 517.1,839.7 520.1,848.8 522.4,851.3 524.6,851.9 526.9,843 529.2,832.1 532.2,850.4 533.8,845.8 535.3,867.1 537.5,870 539.8,868.6 541.3,895.9 544.4,854.9 547.4,897.4 549.5,874.6 552,898.9 554,893.6 556,896.8 558,894.4 561.1,898.9 563.1,894.1 565.1,898 567.1,894.4 569.1,896.6 571.2,896 573.2,897.4 575.5,893.1 577.8,891.3 579.8,891 581.8,887.9 583.8,886.8 585.4,903.5 588.4,898.9 591.4,915.6 594.5,898.9 596.5,908.6 598.5,912.8 600.5,920.2 602.5,933.5 604.6,936 606.6,944.5 609.1,949.7 611.7,943.8 614.2,947.5 616.7,955.3 619.3,960 621.8,968.8 623.9,964.9 626,959.4 628.2,950.1 630.3,948.4 632.4,943 635.5,968.8 638.5,967.2 640.5,969.9 642.6,980.4 644.6,980.9 646.9,975 649.1,979.4 652.1,990 655.2,980.9 657.2,979.8 659.3,984.5 661.3,985.5 663.3,985.1 665.3,987.9 667.3,988.5 670.4,994.6 672.6,989.1 674.9,991.5 677.4,983.2 680,967.7 682.5,956.6 684.5,955.3 686.6,949.7 688.6,949 690.6,947.8 692.6,950.3 694.6,949 696.6,948.5 698.7,944.1 700.7,943 702.7,933.6 704.8,920.4 706.8,911.1 708.8,924 710.9,929.2 712.9,936.9 715.2,941.6 717.5,945 719.7,950.4 722,956.6 725,936.9 727.3,936.1 729.6,938.4 731.9,945.6 734.1,949 736.1,945.9 738.2,949.3 740.2,949" fill="none" stroke="#4f6b5a" stroke-width="3.0" stroke-linejoin="round" stroke-linecap="round"/>
<path d="M863.4 847.5H876.5M863.4 900.3H876.5M863.4 952.5H876.5M863.4 1005.5H876.5M863.4 1058.5H876.5M863.4 1111.4H876.5" stroke="#3a62a0" stroke-width="3" fill="none"/>
<text x="904.5" y="855.5" font-size="28" fill="#3a62a0" text-anchor="middle">0</text>
<text x="904.5" y="908.3" font-size="28" fill="#3a62a0" text-anchor="middle">1</text>
<text x="904.5" y="960.5" font-size="28" fill="#3a62a0" text-anchor="middle">2</text>
<text x="904.5" y="1013.5" font-size="28" fill="#3a62a0" text-anchor="middle">3</text>
<text x="904.5" y="1066.5" font-size="28" fill="#3a62a0" text-anchor="middle">4</text>
<text x="904.5" y="1119.4" font-size="28" fill="#3a62a0" text-anchor="middle">5</text>
<polyline points="191.8,1192 194.1,1203.7 196.2,1186.1 198.2,1196.4 200,1187.5 202,1211 203.5,1201.8 205,1199.3 207.9,1206.6 209.7,1216.3 211.4,1225.7 213.1,1202 214.7,1183.1 216.7,1190.5 219.1,1143.5 221.1,1202.2 222.6,1190.7 224.1,1178.7 227,1158.2 229.4,1172.9 231.2,1153.6 232.9,1140.5 235.2,1180.2 237,1170.2 238.8,1155.2 241.7,1152.3 244.6,1136.1 246.4,1147.4 248.2,1158.2 250.5,1124.4 252,1121.4 253.5,1114.1 255.8,1140.5 257.6,1132.1 259.3,1130.2 260.8,1136.9 262.3,1137.6 264.6,1122.9 265.8,1169.9 268.2,1140.5 271.1,1147.9 274,1134.6 276.2,1146.7 278.4,1161.1 279.9,1145 281.4,1127.3 283.6,1137.9 285.8,1159.6 288.7,1136.1 290.9,1143.7 293.1,1136.1 295.3,1149.3 297.5,1164 299.5,1162.6 301.4,1153.1 303.4,1149.3 304.9,1153.1 306.4,1155.2 309.3,1172.9 311.3,1169.1 313.2,1170.9 315.2,1167 317.1,1163.4 319.1,1156.4 321,1152.3 322.5,1156.8 324,1171.4 326.9,1142 328.9,1154.9 330.8,1164.7 332.8,1175.8 334.6,1174.3 336.5,1178.5 338.4,1176.7 340.2,1177.3 342,1178.4 343.9,1165.3 345.7,1166.1 347.5,1161.1 349.7,1156.4 351.9,1153.7 354.8,1165.5 356.3,1153.7 357.8,1130.2 360,1142.2 362.2,1156.7 364.4,1162.7 366.6,1167 368.8,1179.9 371,1192 373.2,1177.6 375.4,1164 377.4,1158.5 379.3,1154.9 381.3,1143.5 383.5,1158.4 385.7,1169.9 387.9,1153.7 390.1,1133.2 393,1155.2 395.2,1138.7 397.5,1122.9 399.7,1147.1 401.9,1164 403.8,1148.8 405.7,1134.6 407.4,1147.4 409.2,1155.2 412.1,1186.1 413.6,1175.6 415.1,1167 417.3,1162.4 419.5,1156.7 422.4,1144.9 423.9,1151.5 425.4,1167 428.3,1139.1 430.1,1140.6 432,1146.5 433.9,1146.3 435.7,1153.7 437.5,1161.3 439.4,1159.3 441.2,1170.5 443,1174.3 445.2,1161 447.4,1150.8 449.4,1153.7 451.3,1152.3 453.3,1158.2 455.5,1154.6 457.7,1144.9 460.6,1158.2 462.1,1134.7 463.6,1114.1 466.5,1149.3 468.2,1148.8 470,1142 472.2,1152.2 474.4,1164 476.2,1157.9 478.1,1148.9 479.9,1142.5 481.8,1137.6 484.7,1164 487.6,1143.5 489.6,1148.8 491.5,1164.5 493.5,1172.9 496.4,1153.7 497.9,1158 499.4,1167 500.9,1149.3 503.1,1168.2 505.3,1184.6 508.2,1146.4 510.4,1139 512.6,1130.2 515.5,1147.9 517,1108.2 518.5,1115.5 520,1124.4 522.3,1080.3 525.2,1105.3 527.3,1093.5 530.2,1106.7 531.7,1089.1 534.6,1111.1 536.9,1121.3 539.1,1134.6 542,1155.2 544.9,1143.5 546.4,1157.8 547.9,1169.9 549.8,1172.4 551.8,1173.7 553.7,1175.8 555.2,1172.5 556.7,1164 558.7,1178.7 560.7,1165.1 562.6,1156.7 565.5,1200.8 567.7,1195.4 569.9,1187.5 572.1,1189 574.3,1190.5 576.3,1182.9 578.2,1175.8 580.2,1164 582.2,1176.4 584.1,1184.6 586.1,1196.4 588.3,1215.1 590.5,1227.2 592.7,1214.5 594.9,1196.4 597.1,1204.7 599.3,1209.6 601.3,1203.4 603.2,1207.6 605.2,1206.6 608.1,1221.3 610.1,1216.7 612,1214.4 614,1211 616,1212.5 617.9,1222.5 619.9,1222.8 621.8,1224.1 623.8,1224.5 625.7,1225.7 627.7,1218.9 629.6,1207.9 631.6,1203.7 633.8,1202.1 636,1199.3 637.5,1208.3 639,1222.8 641.2,1217.4 643.4,1211 645.4,1215.4 647.3,1227.5 649.3,1233.1 651.2,1220.5 653.2,1222.7 655.1,1214 657.1,1218.4 659,1220.9 661,1225.7 663.2,1230.9 665.4,1230.2 667.2,1229.2 669.1,1222.8 670.9,1222.7 672.8,1222.8 674.7,1236.2 676.7,1235.3 678.6,1237.5 680.8,1235.3 683,1232.5 685.3,1228 687.5,1227.2 689.4,1231.2 691.4,1234.1 693.3,1239 695.1,1237.7 697,1226.9 698.9,1223.3 700.7,1215.5 702.5,1221.7 704.4,1221.8 706.2,1227.9 708,1231.6 709.9,1233.1 711.7,1232.8 713.5,1233.7 715.4,1234.6 717.4,1226.6 719.3,1226.2 721.3,1216.9 723.5,1225.6 725.7,1236 727.5,1237.2 729.4,1236.9 731.2,1242.3 733,1241.9 735,1238.9 736.9,1226.5 738.9,1227.2" fill="none" stroke="#c68b50" stroke-width="3.0" stroke-linejoin="round" stroke-linecap="round"/>
<path d="M159.5 1085.8H173.3M159.5 1139.8H173.3M159.5 1193.6H173.3M159.5 1248.3H173.3" stroke="#111" stroke-width="3" fill="none"/>
<text x="150" y="1095.8" font-size="28" fill="#c68b50" text-anchor="end">60</text>
<text x="150" y="1149.8" font-size="28" fill="#c68b50" text-anchor="end">40</text>
<text x="150" y="1203.6" font-size="28" fill="#c68b50" text-anchor="end">20</text>
<text x="150" y="1258.3" font-size="28" fill="#c68b50" text-anchor="end">0</text>
<polyline points="175.3,1378.1 180.3,1376.6 183.2,1386.9 184.7,1376.6 187.6,1384 193.5,1385.5 199.4,1391.3 205.3,1386.9 212.6,1390.5 239.1,1383.4 247.9,1388.4 258.2,1386.9 300.8,1389.3 306.6,1385.5 311,1389.9 316.9,1385.5 334.6,1384 346.3,1389.9 352.2,1384 358.1,1378.1 363.9,1379.6 369.8,1376.6 375.7,1344.3 380.1,1353.1 386.9,1291.4 391.9,1348.7 394.8,1323.7 397.7,1373.7 402.2,1337 411,1370.8 415.4,1367.8 428.6,1306.1 430.9,1337 434.5,1316.4 438.9,1335.5 446.2,1322.3 452.1,1310.5 455,1334 456.5,1266.4 460.9,1295.8 463.9,1281.1 468.3,1319.3 470.6,1297.3 477.9,1347.3 485.3,1279.7 489.7,1334 495.5,1317.9 501.4,1356.1 507.3,1317.9 511.7,1316.4 519.1,1270.9 524.9,1292.9 529.3,1284.1 532.3,1267.9 538.2,1310.5 544,1300.2 551.4,1310.5 558.7,1341.4 566.1,1373.7 572,1381 582.2,1382.5 585.2,1386.9 596.9,1388.4 605.7,1381 613.1,1375.2 616,1389.9 619,1378.1 623.4,1384 627.8,1379.6 632.8,1350.2 638.1,1375.2 642.5,1384 652.8,1384 657.2,1386.9 661.6,1382.5 670.4,1385.5" fill="none" stroke="#e49a7a" stroke-width="2.9" stroke-linejoin="round" stroke-linecap="round"/>
<polyline points="175.3,1357.5 177.3,1337 181.2,1306.1 183.2,1341.4 184.7,1313.5 187,1259.1 190.6,1262 193.5,1278.2 196.4,1328.2 199.4,1378.1 203.8,1364.9 208.2,1372.2 212.6,1385.5 220,1328.2 225.8,1285.5 237.6,1283.5 247.9,1277.6 256.7,1284.1 300.8,1371.6 311,1329.6 316.9,1314.9 324.3,1287 328.7,1284.1 339,1259.1 346.3,1263.5 352.2,1261.2 361,1263.5 365.4,1254.7 375.7,1254.1 390.4,1252.3 405.1,1251.8 434.5,1252.3 461.8,1251.8 470.6,1254.7 479.4,1252.3 501.4,1252.3 508.8,1254.7 517.6,1254.1 520.5,1257 526.4,1257 530.8,1260 533.7,1269.4 538.2,1292.9 541.1,1292.9 547,1267 552.9,1278.2 555.8,1291.4 561.7,1319.3 567.5,1350.2 573.4,1376.6 579.3,1362 585.2,1384 591.1,1370.8 596.9,1381 602.8,1376.6 608.7,1363.4 613.1,1357.5 614.6,1251.8 616,1373.7 620.4,1375.2 624.8,1382.5 629.3,1369.3 632.8,1313.5 635.1,1334 638.1,1335.5 641,1354.6 643.9,1357.5 648.4,1376.6 652.8,1363.4 657.2,1364.9 660.1,1378.1 670.4,1376.6" fill="none" stroke="#4d4d4d" stroke-width="2.9" stroke-linejoin="round" stroke-linecap="round"/>
<path d="M733.4 1250.8V1392M733.4 1251H741.8M733.4 1285.2H741.8M733.4 1320.3H741.8M733.4 1355.3H741.8M733.4 1391.4H741.8" stroke="#5a5a5a" stroke-width="3" fill="none"/>
<text x="750.5" y="1259.6" font-size="24" fill="#5a5a5a" text-anchor="start">0</text>
<text x="750.5" y="1293.8" font-size="24" fill="#5a5a5a" text-anchor="start">25</text>
<text x="750.5" y="1328.9" font-size="24" fill="#5a5a5a" text-anchor="start">50</text>
<text x="750.5" y="1363.9" font-size="24" fill="#5a5a5a" text-anchor="start">75</text>
<text x="750.5" y="1400" font-size="24" fill="#5a5a5a" text-anchor="start">100</text>
<path d="M863.4 1251.1H876.5M863.4 1279.5H876.5M863.4 1307.6H876.5M863.4 1336H876.5M863.4 1363.7H876.5M863.4 1392H876.5" stroke="#e49a7a" stroke-width="3" fill="none"/>
<text x="904.5" y="1259.3" font-size="23" fill="#e49a7a" text-anchor="middle">50</text>
<text x="904.5" y="1287.7" font-size="23" fill="#e49a7a" text-anchor="middle">40</text>
<text x="904.5" y="1315.8" font-size="23" fill="#e49a7a" text-anchor="middle">30</text>
<text x="904.5" y="1344.2" font-size="23" fill="#e49a7a" text-anchor="middle">20</text>
<text x="904.5" y="1371.9" font-size="23" fill="#e49a7a" text-anchor="middle">10</text>
<text x="904.5" y="1400.2" font-size="23" fill="#e49a7a" text-anchor="middle">0</text>
<polyline points="174.4,1419.1 184.7,1419.1 190.6,1418.2 196.4,1423.5 202.3,1429.4 207.6,1441.1 211.1,1435.3 215.5,1423.5 221.4,1420 233.2,1417.6 308.1,1418.2 314,1420 328.7,1419.1 334.6,1417.6 589.3,1417.6 595.2,1437.2 601,1427.4 608.9,1420.4 616.7,1429.4 628.5,1450.9 644.1,1464.6 652,1454.8 663.7,1454.1 671.6,1468.6 681.4,1521.4 685.3,1517.5 695.1,1433.3 699,1447 704.9,1431.3 712.7,1437.2 718.6,1443.1 726.4,1464.6 734.2,1458.8 740.1,1476.4 744,1439.2 749.1,1450.9" fill="none" stroke="#111" stroke-width="2.9" stroke-linejoin="round" stroke-linecap="round"/>
<polyline points="205.9,1487.6 212.6,1452.9 217,1448.5 220,1438.2 224.4,1422 227.3,1429.4 230.2,1436.7 234.6,1420.6 240.5,1419.1 247.9,1422 252.3,1418.2 308.1,1418.2 311,1423.5 314,1436.7 316.9,1426.4 319.9,1447 322.8,1429.4 327.2,1427.9 330.2,1425 334.6,1430.9 336,1418.2 400,1418.5 420,1420 430,1418.5 463.9,1419.1 480,1421 490,1419.6 507,1423.5 518.8,1421.5 530,1421 542.3,1431.3 544.2,1421.5 548,1426 552,1421 556,1431.3 559.9,1421.5 566,1423 571.7,1474.4 575.6,1421.5 587.3,1419.6 593.2,1435.3 597.1,1456.8 606.9,1523.4 638.3,1523.4 663.7,1468.6 681.4,1519.5 691.1,1443.1 710.7,1439.2 740.1,1517.5 751.9,1468.6 767.5,1439.2" fill="none" stroke="#c8aa5a" stroke-width="2.7" stroke-linejoin="round" stroke-linecap="round"/>
<polyline points="589.3,1417.6 595.2,1437.2 601,1427.4 608.9,1420.4 616.7,1429.4 628.5,1450.9 644.1,1464.6 652,1454.8 663.7,1454.1 671.6,1468.6 681.4,1521.4 685.3,1517.5 695.1,1433.3 699,1447 704.9,1431.3 712.7,1437.2 718.6,1443.1 726.4,1464.6 734.2,1458.8 740.1,1476.4 744,1439.2 749.1,1450.9" fill="none" stroke="#111" stroke-width="2.9" stroke-linejoin="round" stroke-linecap="round"/>
<path d="M159.5 1417.2H173.3M159.5 1469.9H173.3M159.5 1522.8H173.3" stroke="#111" stroke-width="3" fill="none"/>
<text x="150" y="1427.6" font-size="29" fill="#111" text-anchor="end">0</text>
<text x="150" y="1480.3" font-size="29" fill="#111" text-anchor="end">50</text>
<text x="150" y="1533.2" font-size="29" fill="#111" text-anchor="end">100</text>
<polyline points="222.3,1530.8 240.5,1520.5 249.3,1545.5 256.7,1540.5 267,1536.6 281.1,1551.3 288.4,1520.5 293.4,1533.7 302.2,1525.8 311,1533.7 334,1548.4 372.8,1552.8 410.4,1511.7 434.5,1499.3 460,1484.2 475.7,1477.6 493.3,1471.3 502.3,1463.5 514.1,1591.2 527.4,1597.8 538.4,1579.4 550.9,1619.4 561.9,1607.6 573.6,1617.4 585.4,1611.6 599.1,1580.2 604.2,1558.7 606.9,1568.5 610.8,1611.6 614.7,1599.8 626.5,1578.3 634.3,1570.4 640.2,1588 644.1,1601.8 648,1592 652,1611.6 657.8,1588 695.1,1624.1 732.3,1602.9 779.3,1626.4 822.4,1592" fill="none" stroke="#111" stroke-width="2.9" stroke-linejoin="round" stroke-linecap="round"/>
<g fill="#111"><path d="M222.3 1526.6l4.2 4.2l-4.2 4.2l-4.2 -4.2z"/><path d="M240.5 1516.3l4.2 4.2l-4.2 4.2l-4.2 -4.2z"/><path d="M249.3 1541.3l4.2 4.2l-4.2 4.2l-4.2 -4.2z"/><path d="M256.7 1536.3l4.2 4.2l-4.2 4.2l-4.2 -4.2z"/><path d="M267 1532.4l4.2 4.2l-4.2 4.2l-4.2 -4.2z"/><path d="M281.1 1547.1l4.2 4.2l-4.2 4.2l-4.2 -4.2z"/><path d="M288.4 1516.3l4.2 4.2l-4.2 4.2l-4.2 -4.2z"/><path d="M293.4 1529.5l4.2 4.2l-4.2 4.2l-4.2 -4.2z"/><path d="M302.2 1521.6l4.2 4.2l-4.2 4.2l-4.2 -4.2z"/><path d="M311 1529.5l4.2 4.2l-4.2 4.2l-4.2 -4.2z"/><path d="M334 1544.2l4.2 4.2l-4.2 4.2l-4.2 -4.2z"/><path d="M372.8 1548.6l4.2 4.2l-4.2 4.2l-4.2 -4.2z"/><path d="M410.4 1507.5l4.2 4.2l-4.2 4.2l-4.2 -4.2z"/><path d="M434.5 1495.1l4.2 4.2l-4.2 4.2l-4.2 -4.2z"/><path d="M502.3 1459.3l4.2 4.2l-4.2 4.2l-4.2 -4.2z"/><path d="M514.1 1587l4.2 4.2l-4.2 4.2l-4.2 -4.2z"/><path d="M527.4 1593.6l4.2 4.2l-4.2 4.2l-4.2 -4.2z"/><path d="M538.4 1575.2l4.2 4.2l-4.2 4.2l-4.2 -4.2z"/><path d="M550.9 1615.2l4.2 4.2l-4.2 4.2l-4.2 -4.2z"/><path d="M561.9 1603.4l4.2 4.2l-4.2 4.2l-4.2 -4.2z"/><path d="M573.6 1613.2l4.2 4.2l-4.2 4.2l-4.2 -4.2z"/><path d="M585.4 1607.4l4.2 4.2l-4.2 4.2l-4.2 -4.2z"/><path d="M599.1 1576l4.2 4.2l-4.2 4.2l-4.2 -4.2z"/><path d="M604.2 1554.5l4.2 4.2l-4.2 4.2l-4.2 -4.2z"/><path d="M606.9 1564.3l4.2 4.2l-4.2 4.2l-4.2 -4.2z"/><path d="M610.8 1607.4l4.2 4.2l-4.2 4.2l-4.2 -4.2z"/><path d="M614.7 1595.6l4.2 4.2l-4.2 4.2l-4.2 -4.2z"/><path d="M626.5 1574.1l4.2 4.2l-4.2 4.2l-4.2 -4.2z"/><path d="M634.3 1566.2l4.2 4.2l-4.2 4.2l-4.2 -4.2z"/><path d="M640.2 1583.8l4.2 4.2l-4.2 4.2l-4.2 -4.2z"/><path d="M644.1 1597.6l4.2 4.2l-4.2 4.2l-4.2 -4.2z"/><path d="M648 1587.8l4.2 4.2l-4.2 4.2l-4.2 -4.2z"/><path d="M652 1607.4l4.2 4.2l-4.2 4.2l-4.2 -4.2z"/><path d="M657.8 1583.8l4.2 4.2l-4.2 4.2l-4.2 -4.2z"/><path d="M695.1 1619.9l4.2 4.2l-4.2 4.2l-4.2 -4.2z"/><path d="M732.3 1598.7l4.2 4.2l-4.2 4.2l-4.2 -4.2z"/><path d="M779.3 1622.2l4.2 4.2l-4.2 4.2l-4.2 -4.2z"/></g>
<path d="M863.4 1437.1H876.5M863.4 1501.7H876.5M863.4 1566.2H876.5M863.4 1631.3H876.5" stroke="#111" stroke-width="3" fill="none"/>
<text x="904.5" y="1445.3" font-size="27" fill="#111" text-anchor="middle">-16</text>
<text x="904.5" y="1509.9" font-size="27" fill="#111" text-anchor="middle">-14</text>
<text x="904.5" y="1574.4" font-size="27" fill="#111" text-anchor="middle">-12</text>
<text x="904.5" y="1639.5" font-size="27" fill="#111" text-anchor="middle">-10</text>
<polyline points="222.9,1678.2 241.1,1656.7 249.4,1670 256.4,1676.4 267,1659.1 281.7,1695.8 288.2,1668.5 293.4,1646.4 302.9,1661.7 311.1,1678.8 334.3,1667 373.4,1670 410.1,1666.4 435.1,1686.1 475.6,1664.7 494.1,1665.8 502.3,1677.7 514.2,1685.1 527.6,1635.6 573.8,1700 598.3,1753.2 602.1,1774.4 605.8,1718.6 608.4,1727.9 612.1,1751 628.1,1741 650.5,1667.6 659.4,1688.9" fill="none" stroke="#111" stroke-width="2.9" stroke-linejoin="round" stroke-linecap="round"/>
<g fill="#111"><circle cx="222.9" cy="1678.2" r="4.3"/><circle cx="241.1" cy="1656.7" r="4.3"/><circle cx="249.4" cy="1670" r="4.3"/><circle cx="256.4" cy="1676.4" r="4.3"/><circle cx="267" cy="1659.1" r="4.3"/><circle cx="281.7" cy="1695.8" r="4.3"/><circle cx="288.2" cy="1668.5" r="4.3"/><circle cx="293.4" cy="1646.4" r="4.3"/><circle cx="302.9" cy="1661.7" r="4.3"/><circle cx="311.1" cy="1678.8" r="4.3"/><circle cx="334.3" cy="1667" r="4.3"/><circle cx="373.4" cy="1670" r="4.3"/><circle cx="410.1" cy="1666.4" r="4.3"/><circle cx="435.1" cy="1686.1" r="4.3"/><circle cx="475.6" cy="1664.7" r="4.3"/><circle cx="494.1" cy="1665.8" r="4.3"/><circle cx="502.3" cy="1677.7" r="4.3"/><circle cx="514.2" cy="1685.1" r="4.3"/><circle cx="527.6" cy="1635.6" r="4.3"/><circle cx="573.8" cy="1700" r="4.3"/><circle cx="598.3" cy="1753.2" r="4.3"/><circle cx="602.1" cy="1774.4" r="4.3"/><circle cx="605.8" cy="1718.6" r="4.3"/><circle cx="608.4" cy="1727.9" r="4.3"/><circle cx="612.1" cy="1751" r="4.3"/><circle cx="628.1" cy="1741" r="4.3"/><circle cx="650.5" cy="1667.6" r="4.3"/><circle cx="659.4" cy="1688.9" r="4.3"/></g>
<path d="M161.7 1615.3H173.3M161.7 1660.4H173.3M161.7 1704.4H173.3M161.7 1750.2H173.3" stroke="#111" stroke-width="3" fill="none"/>
<text x="153" y="1625.7" font-size="29" fill="#111" text-anchor="end">0.10</text>
<text x="153" y="1670.8" font-size="29" fill="#111" text-anchor="end">0.08</text>
<text x="153" y="1714.8" font-size="29" fill="#111" text-anchor="end">0.06</text>
<text x="153" y="1760.6" font-size="29" fill="#111" text-anchor="end">0.04</text>
<polyline points="297.6,1757.9 300.6,1759.2 303.5,1762.3 306.4,1758.7 309.4,1755 311.8,1754 314.3,1756.6 316.8,1754.7 319.2,1756.1 321.7,1757.7 324.1,1756.4 326.6,1755.6 329,1757.3 331.5,1756.1 333.9,1755 336.4,1754.9 338.8,1754.1 341.1,1754.5 343.3,1753.9 345.6,1756.3 347.8,1754.3 350.1,1756.5 352.4,1756.2 354.6,1753.4 356.9,1754.3 359.2,1755.3 361.4,1756.6 363.7,1754.5 365.9,1756.2 368.2,1755.9 370.6,1755.1 372.9,1756.3 375.2,1756.5 377.6,1755.6 379.9,1753.3 382.3,1755 384.6,1753.6 387,1754.7 389.3,1753.1 391.7,1752.9 394,1755.4 396.4,1756.7 398.7,1757.1 401.1,1758.1 403.4,1757.9 405.8,1758.2 408.1,1756.5 410.5,1754.1 412.8,1756.1 415.2,1753.5 417.6,1753.3 419.9,1751.6 422.2,1753.1 424.6,1753 426.9,1752.1 429.3,1754.8 431.6,1751.7 434,1754.5 436.3,1753.1 438.7,1752.9 441,1752.4 443.4,1753.8 445.7,1754.8 448.1,1754.3 450.4,1756.4 452.9,1759.8 455.3,1761.9 457.8,1763.8 460.4,1764.1 463,1762 465.5,1760.4 468.1,1757.9 471,1761.9 473.9,1762.3 476.9,1756.4 479.1,1758.3 481.3,1757.7 483.5,1757.7 485.7,1757.9 487.9,1762.4 490.1,1766.7 491.6,1775.5 494.5,1791.7 497.5,1829.9 498.9,1791.7 503.3,1787.3 506.3,1775.5 512.1,1757.9 518,1759.4 521,1768.2 525.4,1763.8 528.3,1778.5 529.8,1819.6 540.1,1857.8 551.8,1863.7 563.6,1860.8 573.9,1869.6 575.8,1870 587.1,1858.3 598.4,1870 609.7,1874.5 622.3,1834.8 634.5,1848.4 644.9,1841.6 654.8,1855.1 659.3,1859.6 666.1,1855.1 670.6,1853.8 675.1,1867.3 681,1858.3 688.7,1838.4 695.4,1855.1 700,1859.6 703.6,1848.4 709,1859.6 713.5,1832.6 718,1848.4 724.8,1841.6 730.7,1815.8 736.1,1839.3" fill="none" stroke="#2a4f96" stroke-width="3.1" stroke-linejoin="round" stroke-linecap="round"/>
<g fill="#2a4f96"><circle cx="297.6" cy="1757.9" r="3.4"/><circle cx="300.6" cy="1759.2" r="3.4"/><circle cx="303.5" cy="1762.3" r="3.4"/><circle cx="306.4" cy="1758.7" r="3.4"/><circle cx="309.4" cy="1755" r="3.4"/><circle cx="311.8" cy="1754" r="3.4"/><circle cx="314.3" cy="1756.6" r="3.4"/><circle cx="316.8" cy="1754.7" r="3.4"/><circle cx="319.2" cy="1756.1" r="3.4"/><circle cx="321.7" cy="1757.7" r="3.4"/><circle cx="324.1" cy="1756.4" r="3.4"/><circle cx="326.6" cy="1755.6" r="3.4"/><circle cx="329" cy="1757.3" r="3.4"/><circle cx="331.5" cy="1756.1" r="3.4"/><circle cx="333.9" cy="1755" r="3.4"/><circle cx="336.4" cy="1754.9" r="3.4"/><circle cx="338.8" cy="1754.1" r="3.4"/><circle cx="341.1" cy="1754.5" r="3.4"/><circle cx="343.3" cy="1753.9" r="3.4"/><circle cx="345.6" cy="1756.3" r="3.4"/><circle cx="347.8" cy="1754.3" r="3.4"/><circle cx="350.1" cy="1756.5" r="3.4"/><circle cx="352.4" cy="1756.2" r="3.4"/><circle cx="354.6" cy="1753.4" r="3.4"/><circle cx="356.9" cy="1754.3" r="3.4"/><circle cx="359.2" cy="1755.3" r="3.4"/><circle cx="361.4" cy="1756.6" r="3.4"/><circle cx="363.7" cy="1754.5" r="3.4"/><circle cx="365.9" cy="1756.2" r="3.4"/><circle cx="368.2" cy="1755.9" r="3.4"/><circle cx="370.6" cy="1755.1" r="3.4"/><circle cx="372.9" cy="1756.3" r="3.4"/><circle cx="375.2" cy="1756.5" r="3.4"/><circle cx="377.6" cy="1755.6" r="3.4"/><circle cx="379.9" cy="1753.3" r="3.4"/><circle cx="382.3" cy="1755" r="3.4"/><circle cx="384.6" cy="1753.6" r="3.4"/><circle cx="387" cy="1754.7" r="3.4"/><circle cx="389.3" cy="1753.1" r="3.4"/><circle cx="391.7" cy="1752.9" r="3.4"/><circle cx="394" cy="1755.4" r="3.4"/><circle cx="396.4" cy="1756.7" r="3.4"/><circle cx="398.7" cy="1757.1" r="3.4"/><circle cx="401.1" cy="1758.1" r="3.4"/><circle cx="403.4" cy="1757.9" r="3.4"/><circle cx="405.8" cy="1758.2" r="3.4"/><circle cx="408.1" cy="1756.5" r="3.4"/><circle cx="410.5" cy="1754.1" r="3.4"/><circle cx="412.8" cy="1756.1" r="3.4"/><circle cx="415.2" cy="1753.5" r="3.4"/><circle cx="417.6" cy="1753.3" r="3.4"/><circle cx="419.9" cy="1751.6" r="3.4"/><circle cx="422.2" cy="1753.1" r="3.4"/><circle cx="424.6" cy="1753" r="3.4"/><circle cx="426.9" cy="1752.1" r="3.4"/><circle cx="429.3" cy="1754.8" r="3.4"/><circle cx="431.6" cy="1751.7" r="3.4"/><circle cx="434" cy="1754.5" r="3.4"/><circle cx="436.3" cy="1753.1" r="3.4"/><circle cx="438.7" cy="1752.9" r="3.4"/><circle cx="441" cy="1752.4" r="3.4"/><circle cx="443.4" cy="1753.8" r="3.4"/><circle cx="445.7" cy="1754.8" r="3.4"/><circle cx="448.1" cy="1754.3" r="3.4"/><circle cx="450.4" cy="1756.4" r="3.4"/><circle cx="452.9" cy="1759.8" r="3.4"/><circle cx="455.3" cy="1761.9" r="3.4"/><circle cx="457.8" cy="1763.8" r="3.4"/><circle cx="460.4" cy="1764.1" r="3.4"/><circle cx="463" cy="1762" r="3.4"/><circle cx="465.5" cy="1760.4" r="3.4"/><circle cx="468.1" cy="1757.9" r="3.4"/><circle cx="471" cy="1761.9" r="3.4"/><circle cx="473.9" cy="1762.3" r="3.4"/><circle cx="476.9" cy="1756.4" r="3.4"/><circle cx="479.1" cy="1758.3" r="3.4"/><circle cx="481.3" cy="1757.7" r="3.4"/><circle cx="483.5" cy="1757.7" r="3.4"/><circle cx="485.7" cy="1757.9" r="3.4"/><circle cx="487.9" cy="1762.4" r="3.4"/><circle cx="490.1" cy="1766.7" r="3.4"/><circle cx="491.6" cy="1775.5" r="3.4"/><circle cx="494.5" cy="1791.7" r="3.4"/><circle cx="497.5" cy="1829.9" r="3.4"/><circle cx="498.9" cy="1791.7" r="3.4"/><circle cx="503.3" cy="1787.3" r="3.4"/><circle cx="506.3" cy="1775.5" r="3.4"/><circle cx="512.1" cy="1757.9" r="3.4"/><circle cx="518" cy="1759.4" r="3.4"/><circle cx="521" cy="1768.2" r="3.4"/><circle cx="525.4" cy="1763.8" r="3.4"/><circle cx="528.3" cy="1778.5" r="3.4"/><circle cx="529.8" cy="1819.6" r="3.4"/><circle cx="540.1" cy="1857.8" r="3.4"/><circle cx="551.8" cy="1863.7" r="3.4"/><circle cx="563.6" cy="1860.8" r="3.4"/><circle cx="573.9" cy="1869.6" r="3.4"/><circle cx="575.8" cy="1870" r="3.4"/><circle cx="587.1" cy="1858.3" r="3.4"/><circle cx="598.4" cy="1870" r="3.4"/><circle cx="609.7" cy="1874.5" r="3.4"/><circle cx="622.3" cy="1834.8" r="3.4"/><circle cx="634.5" cy="1848.4" r="3.4"/><circle cx="644.9" cy="1841.6" r="3.4"/><circle cx="654.8" cy="1855.1" r="3.4"/><circle cx="659.3" cy="1859.6" r="3.4"/><circle cx="666.1" cy="1855.1" r="3.4"/><circle cx="670.6" cy="1853.8" r="3.4"/><circle cx="675.1" cy="1867.3" r="3.4"/><circle cx="681" cy="1858.3" r="3.4"/><circle cx="688.7" cy="1838.4" r="3.4"/><circle cx="695.4" cy="1855.1" r="3.4"/><circle cx="700" cy="1859.6" r="3.4"/><circle cx="703.6" cy="1848.4" r="3.4"/><circle cx="709" cy="1859.6" r="3.4"/><circle cx="713.5" cy="1832.6" r="3.4"/><circle cx="718" cy="1848.4" r="3.4"/><circle cx="724.8" cy="1841.6" r="3.4"/><circle cx="730.7" cy="1815.8" r="3.4"/><circle cx="736.1" cy="1839.3" r="3.4"/></g>
<path d="M863.4 1753.5H876.5M863.4 1785.1H876.5M863.4 1817.7H876.5M863.4 1849.7H876.5M863.4 1882.2H876.5" stroke="#111" stroke-width="3" fill="none"/>
<text x="904.5" y="1763.7" font-size="28.5" fill="#111" text-anchor="middle">0</text>
<text x="904.5" y="1795.3" font-size="28.5" fill="#111" text-anchor="middle">25</text>
<text x="904.5" y="1827.9" font-size="28.5" fill="#111" text-anchor="middle">50</text>
<text x="904.5" y="1859.9" font-size="28.5" fill="#111" text-anchor="middle">75</text>
<text x="904.5" y="1892.4" font-size="28.5" fill="#111" text-anchor="middle">100</text>
<path d="M554.4 48.8V2062" stroke="#b8392e" stroke-width="3.4" stroke-dasharray="10.8 15.99" fill="none"/>
<polyline points="207.3,1046.8 209.7,1062 212.8,1054.4 215.1,1055.5 217.3,1054.4 220.4,1063.5 222.7,1064 224.9,1066.5 227.9,1077.1 231,1071.1 233.2,1074.5 235.5,1074.1 237.5,1072 239.6,1072.2 241.6,1069.6 243.9,1067 246.2,1068 248.4,1071.9 250.7,1072.6 253,1074.5 255.2,1071.1 257.5,1072.6 259.8,1071.1 262.1,1073.9 264.4,1067.2 266.6,1068 268.9,1069.6 270.9,1072.5 273,1069.8 275,1072.6 277.3,1073.1 279.6,1067.7 281.8,1067 284.1,1065 286.4,1060.3 288.6,1064.5 290.9,1058.9 293.2,1062 295.5,1061.4 297.8,1058.9 300.3,1056.5 302.9,1063 305.4,1060.5 307.4,1054.5 309.4,1058.5 311.4,1051.3 313.4,1051.5 315.5,1056.5 317.5,1057.4 319.5,1055.6 321.6,1056.5 323.6,1049.8 325.6,1048.8 327.6,1051 329.6,1046.8 331.9,1047.2 334.2,1048.9 336.5,1049.5 338.8,1049.8 341.1,1045.3 343.4,1044.6 345.6,1046.1 347.9,1043.8 350.2,1038.6 352.4,1044 354.7,1039.9 357,1039.2 359.3,1042.7 361.6,1037.3 363.8,1035.1 366.1,1039.2 368.1,1040 370.1,1032.7 372.1,1033.1 374.4,1035.2 376.7,1032.5 379,1037.5 381.3,1037.7 383.3,1037.2 385.3,1029.1 387.3,1030.1 389.6,1030.2 391.9,1026.6 394.1,1023.3 396.4,1025.5 398.7,1026.6 400.9,1022.3 403.2,1030.4 405.5,1027.1 407.5,1023.4 409.6,1021.9 411.6,1017.9 413.9,1017.8 416.1,1022.4 418.4,1018.9 420.7,1021 423,1020.8 425.2,1014.2 427.5,1019.9 429.8,1014.9 431.8,1010.8 433.9,1010.1 435.9,1007.3 438.2,1011 440.5,1016.4 443.5,1002.8 445.8,1007.1 448.1,1010.4 450.4,1010.8 452.6,1012 454.9,1014.9 457.2,1014.9 460.2,1004.3 462.2,1002.3 464.3,1010 466.3,1008.8 468.1,1008.1 470,1008.8 473,1014.9 475.3,1010.1 477.6,1007.3 479.6,1005.8 481.7,1001.1 483.7,998.2 485.9,1006.3 488.2,1011.9 490.5,1008.7 492.8,1007.3 495.3,1007 497.9,1009.7 500.4,1008.8 502.6,1004.4 504.9,1007.3 507.9,1013.4 510.2,1017.3 512.5,1010.4 514.5,1016.3 516.6,1016.7 518.6,1019.5 521.1,1018.7 523.7,1024.4 526.2,1025.5 528.5,1019.2 530.7,1014.9 533,1016.8 535.3,1022.5 537.3,1023 539.3,1011.5 541.3,1011.9 543.3,1013.7 545.4,1011.5 547.4,1007.3 549.7,1020.6 552,1027.1 554.2,1021.1 556.5,1016.4 558.8,1015.6 561.1,1011.9 564.1,1033.1 566.5,1005.8 568.4,1010.4 570.2,1016.4 572.5,1018 574.7,1011.9 577.8,1025.5 580,1017.4 582.3,1013.4 584.6,1021.4 586.9,1036.2 588.9,1041.8 591,1040.8 593,1042.2 596,1034.6 598,1040.2 600.1,1049.7 602.1,1055.9 604.6,1063.5 607.1,1070.6 609.6,1078.7 611.6,1078.2 613.7,1073.5 615.7,1072.6 617.7,1074.2 619.8,1071.2 621.8,1077.1 623.8,1078 625.9,1085.4 627.9,1084.7 629.9,1085.1 631.9,1093.7 633.9,1096.9 636.2,1088.8 638.5,1084.7 641.5,1098.4 643.8,1098.2 646.1,1093.8 648.1,1097.2 650.1,1101 652.2,1103.3 654.2,1104.9 656.2,1115.3 658.2,1115.1 660.2,1113.8 662.3,1114 664.3,1119.4 666.3,1114.7 668.4,1117.5 670.4,1115.1 672.4,1112.9 674.4,1113.9 676.5,1111.5 678.5,1114.2 680.5,1112.1 682.5,1109 684.8,1108.8 687,1109.4 689.3,1105.6 691.6,1106 693.6,1103.5 695.7,1107.1 697.7,1106.4 699.7,1109.8 701.8,1106.1 703.8,1107.5 706.1,1112.8 708.3,1110.9 710.6,1114.1 712.9,1115.1 715.1,1110 717.4,1110.5 719.4,1116.9 721.5,1120.3 723.5,1127.2 725.8,1118.3 728,1113.6 730,1114.4 732.1,1111.4 734.1,1115.1 736.1,1113.7 738.2,1110.1 740.2,1110.5" fill="none" stroke="#3a62a0" stroke-width="2.3" stroke-linejoin="round" stroke-linecap="round"/>
<path d="M554.6 1999L773 1960M554.6 1999L537 1912" stroke="#cf5a4a" stroke-width="2" stroke-dasharray="7 5" fill="none"/>
<path d="M535.6 1906.5l-3.8 9l7.5 -1.5z" fill="#cf5a4a"/>
<path d="M501.9 1917.6v20M497.9 1917.6h8M497.9 1937.6h8M520.7 1904.5v20M516.7 1904.5h8M516.7 1924.5h8M522.3 1899.8v20M518.3 1899.8h8M518.3 1919.8h8M520.1 1910.7v20M516.1 1910.7h8M516.1 1930.7h8M524.8 1917v20M520.8 1917h8M520.8 1937h8M535.8 1914.5v20M531.8 1914.5h8M531.8 1934.5h8M544.6 1949.9v20M540.6 1949.9h8M540.6 1969.9h8M546.4 1964v20M542.4 1964h8M542.4 1984h8M548.3 1971.8v20M544.3 1971.8h8M544.3 1991.8h8M567.1 1992.2v20M563.1 1992.2h8M563.1 2012.2h8M570.9 1990.7v20M566.9 1990.7h8M566.9 2010.7h8M600.7 1964v20M596.7 1964h8M596.7 1984h8M602.2 1971.8v20M598.2 1971.8h8M598.2 1991.8h8M658.6 1980.3v20M654.6 1980.3h8M654.6 2000.3h8M666.5 1987.5v20M662.5 1987.5h8M662.5 2007.5h8M673.4 1992.2v20M669.4 1992.2h8M669.4 2012.2h8M673.7 1960.9v20M669.7 1960.9h8M669.7 1980.9h8M693.1 1949.9v20M689.1 1949.9h8M689.1 1969.9h8M692.5 1960.9v20M688.5 1960.9h8M688.5 1980.9h8M711.3 1975.9v20M707.3 1975.9h8M707.3 1995.9h8M722.9 1978.1v20M718.9 1978.1h8M718.9 1998.1h8M751.1 1958.7v20M747.1 1958.7h8M747.1 1978.7h8M763 1952.1v20M759 1952.1h8M759 1972.1h8" stroke="#222" stroke-width="1.8" fill="none"/>
<g fill="#111"><circle cx="501.9" cy="1927.6" r="4.6"/><circle cx="520.7" cy="1914.5" r="4.6"/><circle cx="522.3" cy="1909.8" r="4.6"/><circle cx="520.1" cy="1920.7" r="4.6"/><circle cx="524.8" cy="1927" r="4.6"/><circle cx="535.8" cy="1924.5" r="4.6"/><circle cx="544.6" cy="1959.9" r="4.6"/><circle cx="546.4" cy="1974" r="4.6"/><circle cx="548.3" cy="1981.8" r="4.6"/><circle cx="567.1" cy="2002.2" r="4.6"/><circle cx="570.9" cy="2000.7" r="4.6"/><circle cx="600.7" cy="1974" r="4.6"/><circle cx="602.2" cy="1981.8" r="4.6"/><circle cx="658.6" cy="1990.3" r="4.6"/><circle cx="666.5" cy="1997.5" r="4.6"/><circle cx="673.4" cy="2002.2" r="4.6"/><circle cx="673.7" cy="1970.9" r="4.6"/><circle cx="693.1" cy="1959.9" r="4.6"/><circle cx="692.5" cy="1970.9" r="4.6"/><circle cx="711.3" cy="1985.9" r="4.6"/><circle cx="722.9" cy="1988.1" r="4.6"/><circle cx="751.1" cy="1968.7" r="4.6"/><circle cx="763" cy="1962.1" r="4.6"/></g>
<path d="M159.5 1896.9H173.3M159.5 1937.7H173.3M159.5 1978.4H173.3M159.5 2019.2H173.3" stroke="#111" stroke-width="3" fill="none"/>
<text x="150" y="1906.9" font-size="28" fill="#3d7a78" text-anchor="end">21</text>
<text x="150" y="1947.7" font-size="28" fill="#3d7a78" text-anchor="end">19</text>
<text x="150" y="1988.4" font-size="28" fill="#3d7a78" text-anchor="end">17</text>
<text x="150" y="2029.2" font-size="28" fill="#3d7a78" text-anchor="end">15</text>
<rect x="173.3" y="24.6" width="690.1" height="2038.2" fill="none" stroke="#111" stroke-width="3"/>
<path d="M191.6 24.6v17.5M191.6 2062.8v-18M209.3 24.6v25M209.3 2062.8v-25.5M227 24.6v17.5M227 2062.8v-18M244.6 24.6v17.5M244.6 2062.8v-18M262.3 24.6v17.5M262.3 2062.8v-18M279.9 24.6v17.5M279.9 2062.8v-18M297.6 24.6v25M297.6 2062.8v-25.5M315.3 24.6v17.5M315.3 2062.8v-18M332.9 24.6v17.5M332.9 2062.8v-18M350.6 24.6v17.5M350.6 2062.8v-18M368.2 24.6v17.5M368.2 2062.8v-18M385.9 24.6v25M385.9 2062.8v-25.5M403.6 24.6v17.5M403.6 2062.8v-18M421.2 24.6v17.5M421.2 2062.8v-18M438.9 24.6v17.5M438.9 2062.8v-18M456.5 24.6v17.5M456.5 2062.8v-18M474.2 24.6v25M474.2 2062.8v-25.5M491.9 24.6v17.5M491.9 2062.8v-18M509.5 24.6v17.5M509.5 2062.8v-18M527.2 24.6v17.5M527.2 2062.8v-18M544.8 24.6v17.5M544.8 2062.8v-18M562.5 24.6v25M562.5 2062.8v-25.5M580.2 24.6v17.5M580.2 2062.8v-18M597.8 24.6v17.5M597.8 2062.8v-18M615.5 24.6v17.5M615.5 2062.8v-18M633.1 24.6v17.5M633.1 2062.8v-18M650.8 24.6v25M650.8 2062.8v-25.5M668.5 24.6v17.5M668.5 2062.8v-18M686.1 24.6v17.5M686.1 2062.8v-18M703.8 24.6v17.5M703.8 2062.8v-18M721.4 24.6v17.5M721.4 2062.8v-18M739.1 24.6v25M739.1 2062.8v-25.5M756.8 24.6v17.5M756.8 2062.8v-18M774.4 24.6v17.5M774.4 2062.8v-18M792.1 24.6v17.5M792.1 2062.8v-18M809.7 24.6v17.5M809.7 2062.8v-18M827.4 24.6v25M827.4 2062.8v-25.5M845.1 24.6v17.5M845.1 2062.8v-18" stroke="#111" stroke-width="3" fill="none"/>
<text x="207.8" y="2090.8" font-size="28.5" fill="#111" text-anchor="middle">110</text>
<text x="296.1" y="2090.8" font-size="28.5" fill="#111" text-anchor="middle">115</text>
<text x="384.4" y="2090.8" font-size="28.5" fill="#111" text-anchor="middle">120</text>
<text x="472.7" y="2090.8" font-size="28.5" fill="#111" text-anchor="middle">125</text>
<text x="561" y="2090.8" font-size="28.5" fill="#111" text-anchor="middle">130</text>
<text x="649.3" y="2090.8" font-size="28.5" fill="#111" text-anchor="middle">135</text>
<text x="737.6" y="2090.8" font-size="28.5" fill="#111" text-anchor="middle">140</text>
<text x="825.9" y="2090.8" font-size="28.5" fill="#111" text-anchor="middle">145</text>
<text x="556.4" y="2124.6" font-size="29" fill="#111" text-anchor="middle">Age (ky BP)</text>
<text transform="translate(219 200) scale(0.95 1) rotate(-90)" font-size="23.6" fill="#747474" text-anchor="middle">July 21 Insolation</text>
<text transform="translate(250 197.7) scale(0.95 1) rotate(-90)" font-size="23.4" fill="#747474" text-anchor="middle">(30N-30S, W/m<tspan font-size="62%" baseline-shift="super">2</tspan>)</text>
<text transform="translate(73.8 287) scale(0.95 1) rotate(-90)" font-size="29" fill="#6a6d38" text-anchor="middle">CH<tspan font-size="62%" baseline-shift="sub">4</tspan> (ppbv)</text>
<text transform="translate(961.2 186.5) scale(0.95 1) rotate(-90)" font-size="27" fill="#872357" text-anchor="middle">δ<tspan font-size="62%" baseline-shift="super">18</tspan>O (‰, VPDB)</text>
<text transform="translate(957.6 427.5) scale(0.95 1) rotate(-90)" font-size="27" fill="#5a1c1c" text-anchor="middle">CO<tspan font-size="62%" baseline-shift="sub">2</tspan> (ppmv)</text>
<text transform="translate(957.6 610) scale(0.95 1) rotate(-90)" font-size="26.5" fill="#2f78ad" text-anchor="middle">δD (‰, SMOW)</text>
<text transform="translate(72.2 501.5) scale(0.95 1) rotate(-90)" font-size="29.4" fill="#2d5190" text-anchor="middle">Sea leval(m)</text>
<text transform="translate(48.3 879) scale(0.95 1) rotate(-90)" font-size="30" fill="#8b5792" text-anchor="start">MD01-2444 u<tspan font-size="62%" baseline-shift="super">k'</tspan><tspan font-size="62%" baseline-shift="sub">37</tspan></text>
<text transform="translate(98 763.5) scale(0.95 1) rotate(-90)" font-size="29.5" fill="#8b5792" text-anchor="middle">and Mg/Ca SST (°C)</text>
<text transform="translate(962 982.5) scale(0.95 1) rotate(-90)" font-size="29.5" fill="#3a62a0" text-anchor="middle">benthic and <tspan fill="#4f6b5a">planktonic</tspan> δ<tspan font-size="62%" baseline-shift="super">18</tspan>O</text>
<text transform="translate(997.3 981) scale(0.95 1) rotate(-90)" font-size="29" fill="#3a62a0" text-anchor="middle">MD01-2444</text>
<text transform="translate(50.9 1142.5) scale(0.95 1) rotate(-90)" font-size="29.4" fill="#c68b50" text-anchor="middle">MD01-2444</text>
<text transform="translate(93 1312) scale(0.95 1) rotate(-90)" font-size="29.5" fill="#c68b50" text-anchor="start">Temperate tree pollen (%)</text>
<text transform="translate(820.5 1314.4) scale(0.95 1) rotate(-90)" font-size="23.7" fill="#5a5a5a" text-anchor="middle">N.pachy (s.) %</text>
<text transform="translate(853.7 1322.8) scale(0.95 1) rotate(-90)" font-size="23.5" fill="#5a5a5a" text-anchor="middle">ODP984</text>
<text transform="translate(955.5 1313.6) scale(0.95 1) rotate(-90)" font-size="29" fill="#e49a7a" text-anchor="middle">N. incompta %</text>
<text transform="translate(994 1304.4) scale(0.95 1) rotate(-90)" font-size="28.3" fill="#e49a7a" text-anchor="middle">ODP984</text>
<text transform="translate(51.5 1460.5) scale(0.95 1) rotate(-90)" font-size="29.3" fill="#111" text-anchor="middle">MD03-2664 and</text>
<text transform="translate(87.3 1464.2) scale(0.95 1) rotate(-90)" font-size="29.4" fill="#111" text-anchor="middle">ODP984 % IRD</text>
<text transform="translate(952 1531) scale(0.95 1) rotate(-90)" font-size="31" fill="#2c2c5c" text-anchor="middle">ε<tspan font-size="62%" baseline-shift="sub">Nd</tspan></text>
<text transform="translate(77.7 1684.5) scale(0.95 1) rotate(-90)" font-size="28" fill="#111" text-anchor="middle"><tspan font-size="62%" baseline-shift="super">231</tspan>Pa/<tspan font-size="62%" baseline-shift="super">230</tspan>Th</text>
<text transform="translate(957.5 1817.3) scale(0.95 1) rotate(-90)" font-size="29.5" fill="#111" text-anchor="middle">%NPS</text>
<text transform="translate(49.7 2058) scale(0.95 1) rotate(-90)" font-size="29.2" fill="#3d7a78" text-anchor="start">JiangjunTEX<tspan font-size="62%" baseline-shift="sub">86</tspan></text>
<text transform="translate(87.5 1956.8) scale(0.95 1) rotate(-90)" font-size="28.8" fill="#3d7a78" text-anchor="middle">Temp. (°C)</text>
<text transform="translate(775.5 229.8) scale(1.04 1)" font-size="28.5" fill="#111" text-anchor="start">(a)</text>
<text transform="translate(775.5 354.7) scale(1.04 1)" font-size="28.5" fill="#111" text-anchor="start">(b)</text>
<text transform="translate(775.5 477.5) scale(1.04 1)" font-size="28.5" fill="#111" text-anchor="start">(c)</text>
<text transform="translate(775.5 598.3) scale(1.04 1)" font-size="28.5" fill="#111" text-anchor="start">(d)</text>
<text transform="translate(775.5 701.8) scale(1.04 1)" font-size="28.5" fill="#111" text-anchor="start">(e)</text>
<text transform="translate(775.5 785.8) scale(1.04 1)" font-size="28.5" fill="#111" text-anchor="start">(f)</text>
<text transform="translate(775.5 952.3) scale(1.04 1)" font-size="28.5" fill="#111" text-anchor="start">(g)</text>
<text transform="translate(775.5 1119.8) scale(1.04 1)" font-size="28.5" fill="#111" text-anchor="start">(h)</text>
<text transform="translate(780.6 1223.5) scale(1.04 1)" font-size="28.5" fill="#111" text-anchor="start">(i)</text>
<text transform="translate(688 1390.5) scale(1.04 1)" font-size="28.5" fill="#111" text-anchor="start">(j)</text>
<text transform="translate(776.5 1491.8) scale(1.04 1)" font-size="28.5" fill="#111" text-anchor="start">(k)</text>
<text transform="translate(780.5 1596) scale(1.04 1)" font-size="28.5" fill="#111" text-anchor="start">(l)</text>
<text transform="translate(773 1693.8) scale(1.04 1)" font-size="28.5" fill="#111" text-anchor="start">(m)</text>
<text transform="translate(775 1837.1) scale(1.04 1)" font-size="28.5" fill="#111" text-anchor="start">(n)</text>
<text transform="translate(775 1995.8) scale(1.04 1)" font-size="28.5" fill="#111" text-anchor="start">(p)</text>
</g></svg></body></html>
